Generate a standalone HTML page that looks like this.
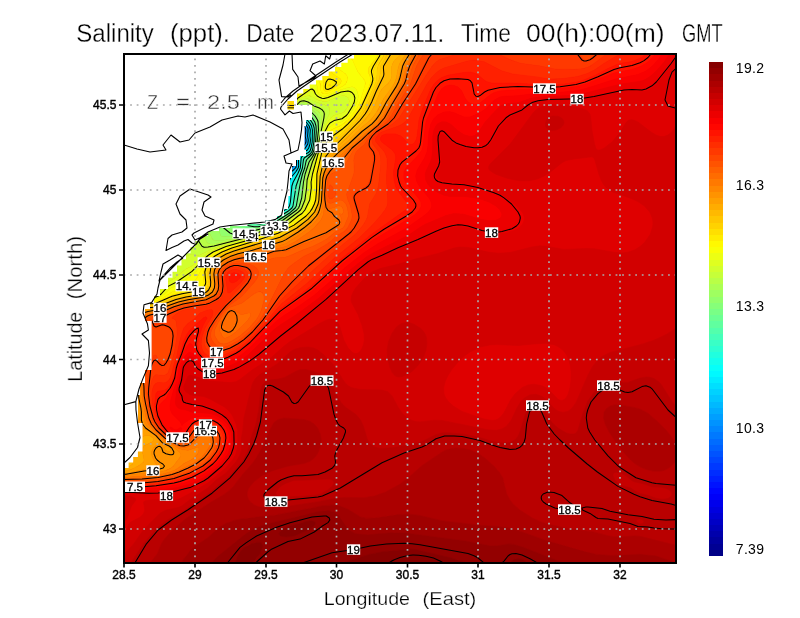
<!DOCTYPE html>
<html><head><meta charset="utf-8"><title>Salinity</title>
<style>
html,body{margin:0;padding:0;background:#fff}
svg{display:block;will-change:transform}
text{font-family:"Liberation Sans",sans-serif}
</style></head><body>
<svg width="800" height="618" viewBox="0 0 800 618">
<rect width="800" height="618" fill="#fff"/>
<defs><clipPath id="fr"><rect x="124" y="54" width="552" height="509"/></clipPath></defs>
<g clip-path="url(#fr)">
<rect x="124" y="54" width="552" height="509" fill="#dc0000"/>
<g shape-rendering="geometricPrecision">
<path d="M294,137.9 294,138.6 294,137.9ZM292,139.4 293.1,140 292,140.4 291.5,140 292,139.4Z" fill="#002dff" stroke="#002dff" stroke-width="0.6"/>
<path d="M294,133.4 296,133 298,133.9 298.7,138 298,140.6 288.9,148 287.3,150 284,156.8 282,159.3 278,161.4 274,161.5 272,160 271.7,158 272,156 274,152 277.2,148 287.2,138 294,133.4ZM293.8,138 294,138.6 293.8,138ZM291.5,140 292,140.4 293.1,140 292,139.4 291.5,140Z" fill="#0039ff" stroke="#0039ff" stroke-width="0.6"/>
<path d="M294,131.3 298,130.5 300,132 300.5,140 299.5,142 292,148 290.2,150 288.9,152 286,159.7 284,162.2 274,167.2 270,168.2 268,167.9 265.9,166 265.4,162 266.3,158 269.6,152 274.9,146 284,138 289.2,134 294,131.3ZM292.8,134 289.6,136 285.1,140 277.2,148 274,152 272,156 271.7,158 272,160 274,161.5 278,161.4 282,159.3 284,156.8 287.3,150 288.9,148 298,140.6 298.7,138 298,133.9 296,133 292.8,134Z" fill="#0046ff" stroke="#0046ff" stroke-width="0.6"/>
<path d="M294,129.7 298,128.7 300,129 301.2,130 302,140 301.4,142 300,143.6 294.1,148 290.8,152 287.5,162 285.6,164 268,175.2 266,176 264,175.9 262,174.7 260,170 259.9,166 261.4,160 264.7,154 269.6,148 276.2,142 286.6,134 294,129.7ZM292.5,132 286.5,136 279.3,142 273,148 269.6,152 266.3,158 265.4,162 265.9,166 268,167.9 270,168.2 274,167.2 284,162.2 286,159.7 288.9,152 290.2,150 292,148 299.5,142 300.5,140 300,132 298,130.5 296,130.7 292.5,132Z" fill="#0053ff" stroke="#0053ff" stroke-width="0.6"/>
<path d="M296,127.7 300,127.4 302,128.3 302.9,130 302.8,142 301.4,144 296,148 292.3,152 290.7,156 289.8,162 288.7,164 277.3,172 266,184.3 264,185.2 262,185 260,183.7 257.3,180 255.9,176 255.3,172 256.4,164 260,156 264.7,150 273.4,142 287.3,132 296,127.7ZM293.4,130 286.6,134 276.2,142 269.6,148 264.7,154 261.4,160 259.9,166 260,170 262,174.7 264,175.9 266,176 268,175.2 285.6,164 287.5,162 290.8,152 294.1,148 300,143.6 301.4,142 302,140 301.2,130 300,129 298,128.7 293.4,130Z" fill="#0060ff" stroke="#0060ff" stroke-width="0.6"/>
<path d="M294,127.4 300,126.3 302,126.9 303.3,128 304.1,130 303.6,134 304,142.1 302,144.8 296,149.3 293.7,152 291.9,156 291.3,162 290.9,164 290,165.1 282.7,170 276.6,176 272.8,182 268,191.3 266,192.8 264,193.3 262,192.8 258.1,190 256,187.4 254,183.9 252.1,178 251.6,174 252,168 254.7,160 260,152 268.2,144 282,134 294,127.4ZM295.2,128 290.7,130 284.2,134 270.9,144 264.7,150 258.9,158 255.8,166 255.5,174 256.5,178 258,181.3 260,183.7 262,185 264,185.2 266,184.3 277.3,172 288.7,164 289.8,162 290.7,156 292.3,152 296,148 301.4,144 302.8,142 302.9,130 302,128.3 300,127.4 295.2,128Z" fill="#006cff" stroke="#006cff" stroke-width="0.6"/>
<path d="M296,125.7 300,125.3 302,125.8 304.5,128 304.9,130 304.4,136 305,140 304.9,142 304.1,144 296.7,150 294,153.5 292.6,158 292.5,164 291.3,166 282.6,172 277.7,178 274.8,184 272,193.1 270,196.5 268,198.1 266,198.8 262,198.3 258,195.7 254.7,192 252,187.9 249.5,182 248.4,176 248.3,172 249.3,166 250.7,162 254.1,156 257.1,152 265.5,144 283.1,132 290.2,128 296,125.7ZM292.4,128 282,134 268.2,144 260,152 254.7,160 252,168 251.6,174 252.1,178 254,183.9 256,187.4 258.1,190 262,192.8 264,193.3 266,192.8 268,191.3 272.8,182 276.6,176 282.7,170 290,165.1 290.9,164 291.3,162 291.9,156 293.7,152 296,149.3 302,144.8 304,142.1 303.6,134 304.1,130 303.3,128 302,126.9 300,126.3 296,126.7 292.4,128Z" fill="#0079ff" stroke="#0079ff" stroke-width="0.6"/>
<path d="M294,125.5 300,124.5 303.9,126 305.3,128 305.8,130 305.1,136 305.9,140 305.8,142 305,144 303.4,146 298,150 294.7,154 293.6,158 293.7,164 293,166 284.7,172 279.8,178 277.2,184 274.3,196 272,199.7 268,202.3 266,202.7 262,202.2 258,200 253.9,196 249.7,190 247,184 245.5,178 245.3,172 246,167.6 247.9,162 251.3,156 254.4,152 262.9,144 277.7,134 288.2,128 294,125.5ZM295,126 290.2,128 283.1,132 265.5,144 257.1,152 254.1,156 250.7,162 249.3,166 248.3,172 248.4,176 249.5,182 252,187.9 254.7,192 258,195.7 262,198.3 266,198.8 268,198.1 270,196.5 272,193.1 274.8,184 277.7,178 282.6,172 291.3,166 292.5,164 292.6,158 294,153.5 296.7,150 304.1,144 304.9,142 305,140 304.4,136 304.9,130 304.5,128 302.4,126 300,125.3 295,126Z" fill="#0086ff" stroke="#0086ff" stroke-width="0.6"/>
<path d="M298,123.7 302,124.1 304,125.2 306.2,128 306.5,130 305.9,136 306.6,140 305.9,144 304,146.6 298,151.1 295.7,154 294.5,158 294.7,164 294,166.5 286.5,172 281.7,178 279.2,184 276.9,196 275.3,200 272,203.4 268,205.3 264,205.7 260,204.5 256,201.8 250.6,196 246.7,190 244.1,184 242.7,178 242.5,172 243.6,166 245.1,162 248.5,156 251.7,152 257.8,146 262.9,142 272.1,136 286.3,128 294,124.6 298,123.7ZM292.5,126 284.5,130 274.4,136 260.4,146 252.7,154 250,158 247.1,164 245.9,168 245.3,174 245.9,180 247.8,186 250,190.4 254,196.1 258,200 262,202.2 266,202.7 268,202.3 271.7,200 273.3,198 274.9,194 277.2,184 279.8,178 284.7,172 293,166 293.7,164 293.6,158 294.7,154 298,150 304,145.4 305.8,142 305.1,136 305.8,130 305.3,128 304,126 300,124.5 296,124.9 292.5,126Z" fill="#0093ff" stroke="#0093ff" stroke-width="0.6"/>
<path d="M294,123.8 298,122.9 302,123.3 304,124.3 306,126.3 307.1,130 306.6,136 307.3,142 306.7,144 304,147.6 300,150.4 296.6,154 295.3,158 295.3,166 294,168 288.2,172 283.4,178 280.9,184 278.7,198 276.8,202 272.1,206 268,207.8 264,208.2 260,207.2 255.1,204 250,198.9 245.1,192 242.1,186 240.4,180 239.8,174 240.5,168 242,163.1 244.6,158 247.3,154 252.9,148 257.6,144 273.2,134 284.4,128 294,123.8ZM296,124 290.5,126 282.5,130 262.9,142 257.8,146 251.7,152 248.5,156 245.1,162 243.6,166 242.5,172 242.7,178 244.1,184 246.7,190 250.6,196 256,201.8 260,204.5 264,205.7 268,205.3 272,203.4 275.3,200 276.9,196 279.2,184 281.7,178 286.5,172 294,166.5 294.7,164 294.5,158 295.7,154 298,151.1 304,146.6 305.9,144 306.6,140 305.9,136 306.5,130 306.2,128 304,125.2 302,124.1 300,123.7 296,124Z" fill="#009fff" stroke="#009fff" stroke-width="0.6"/>
<path d="M292,123.7 296,122.5 300,122.2 304,123.5 306.6,126 307.8,130 307.2,136 308,142 307.4,144 304.8,148 300,151.3 297.5,154 296.1,158 296,166.4 294,169 287.8,174 284,180 282.1,186 280.8,198 279.3,202 275.4,206 270,209.1 264,210.3 260,209.5 256,207.3 250,202 245,196 240.3,188 238.2,182 237.2,176 237.5,170 239,164 241.9,158 244.7,154 250.2,148 255,144 260.7,140 270.9,134 292,123.7ZM293.4,124 284.4,128 273.2,134 257.6,144 252.9,148 247.3,154 244.6,158 241.6,164 240.5,168 239.8,174 240.4,180 242.1,186 245.1,192 250,198.9 255.1,204 260,207.2 264,208.2 268,207.8 272.1,206 276.8,202 278.7,198 280.9,184 283.4,178 288.2,172 294,168 295.3,166 295.3,158 296.6,154 300,150.4 304,147.6 306.7,144 307.3,142 306.6,136 307.1,130 306,126.3 304,124.3 300,122.9 293.4,124Z" fill="#00acff" stroke="#00acff" stroke-width="0.6"/>
<path d="M296,121.8 302,121.8 305.7,124 307.3,126 308.5,130 307.9,136 308.6,142 308,144.4 306,148 300.3,152 298.4,154 296.8,158 296.9,166 296.1,168 289.3,174 285.4,180 283.6,186 282.2,200 280.2,204 275.3,208 268,211.6 264,212.2 260,211.5 254,208.1 247.4,202 242.5,196 237.8,188 235.2,180 234.6,174 235.3,168 237.2,162 240.6,156 243.7,152 249.9,146 255.1,142 264.8,136 276.4,130 289.4,124 296,121.8ZM291.3,124 270.9,134 260.7,140 255,144 250.2,148 244.7,154 241.9,158 239,164 237.5,170 237.2,176 238.2,182 240.3,188 245,196 250,202 256,207.3 260,209.5 264,210.3 270,209.1 275.4,206 279.3,202 280.8,198 282.1,186 284,180 287.8,174 294,169 296,166.4 296.1,158 297.5,154 300,151.3 304.8,148 307.4,144 308,142 307.2,136 307.8,130 307.5,128 306,125.3 304,123.5 300,122.2 296,122.5 291.3,124Z" fill="#00b9ff" stroke="#00b9ff" stroke-width="0.6"/>
<path d="M294,121.6 298,120.8 302,121.1 306,123.5 308,126 309.1,130 308.6,136 309.3,140 308,146.2 306,149.1 299.3,154 297.5,158 297.6,166 296.9,168 290.8,174 286.9,180 284.7,188 283.9,200 282.4,204 277.8,208 272,211.5 268,213.2 262,213.8 258,212.5 252,208.7 244.9,202 240,196 235.3,188 232.7,180 232.1,174 232.7,168 234.7,162 238,156 241.1,152 247.2,146 252.4,142 258.7,138 270,132 287.5,124 294,121.6ZM295.1,122 289.4,124 272.4,132 261.3,138 255.1,142 249.9,146 243.7,152 239.3,158 236.4,164 234.9,170 234.7,176 236,183.2 238.8,190 244,198 249.3,204 254,208.1 260,211.5 264,212.2 268,211.6 275.3,208 280.2,204 282.2,200 283.6,186 285.4,180 289.3,174 296.1,168 296.9,166 296.8,158 298.4,154 300.3,152 306,148 308,144.4 308.6,142 307.9,136 308.5,130 307.3,126 305.7,124 302,121.8 298,121.5 295.1,122Z" fill="#00c6ff" stroke="#00c6ff" stroke-width="0.6"/>
<path d="M292,121.5 298,120.1 302,120.4 306,122.6 308,124.9 309.5,128 309.8,130 309.3,134 309.8,142 308.8,146 308,148 306.3,150 302,152.5 298.9,156 298,160 298.2,166 297.7,168 296,170.5 290.7,176 288,180.8 286.4,186 285.4,200 284,204.4 280,208 269.8,214 264,215.4 258,214.3 251.1,210 244.3,204 239,198 233.7,190 231.2,184 229.6,176 229.8,170 231.3,164 234.1,158 238.4,152 244.5,146 249.7,142 258,136.9 267.5,132 292,121.5ZM292.7,122 270,132 258.7,138 252.4,142 247.2,146 241.1,152 236.7,158 233.9,164 232.4,170 232.1,176 233.1,182 236.2,190 241.5,198 246.8,204 254,210.2 260,213.3 264,213.9 270,212.5 277.8,208 282.4,204 283.9,200 284.7,188 286.9,180 290.8,174 296.9,168 297.6,166 297.5,158 299.3,154 306,149.1 308.1,146 309.3,140 308.6,136 309.1,130 308,126 306,123.5 302,121.1 298,120.8 292.7,122Z" fill="#00d2ff" stroke="#00d2ff" stroke-width="0.6"/>
<path d="M296,119.7 300,119.4 304,120.5 306.2,122 309.3,126 310.4,130 310,136 310.5,140 310.1,144 308.8,148 307.6,150 302,153.3 299.7,156 298.6,160 298.8,166 298.3,168 290.9,178 288.2,184 287.2,190 286.5,202 286,204 284.6,206 274,213.1 268,216 262,216.8 258,215.9 251.2,212 244,206 236.5,198 231.2,190 228.6,184 227,176 227.6,168 229.5,162 232.7,156 237.5,150 244.2,144 249.9,140 256.8,136 269.4,130 288.8,122 296,119.7ZM290.7,122 263.4,134 249.7,142 244.5,146 238.4,152 234.1,158 231.3,164 229.8,170 229.6,176 231.2,184 233.7,190 239,198 244.3,204 251.1,210 258,214.3 264,215.4 269.8,214 280,208 284,204.4 285.4,200 286.4,186 288,180.8 290.7,176 296,170.5 297.7,168 298.2,166 298,160 298.9,156 302,152.5 306.3,150 308,148 308.8,146 309.8,142 309.3,134 309.8,130 308.7,126 307.3,124 304,121.2 300,120.1 296,120.4 290.7,122Z" fill="#00dfff" stroke="#00dfff" stroke-width="0.6"/>
<path d="M294,119.5 300,118.7 304,119.7 307.1,122 310,126 311,130 310.7,136 311.1,140 309.6,148 308,150.8 302.3,154 300,157 299.3,160 299.4,166 299,168 298,170.2 291.2,180 289.5,184 288.4,190 287.9,202 286.4,206 284.2,208 270,216.4 264,218.1 258,217.3 251.6,214 241.5,206 235.6,200 229.7,192 226.7,186 224.6,178 224.6,170 226.1,164 228.8,158 233,152 238.9,146 247.1,140 262.2,132 294,119.5ZM294.8,120 283.8,124 264.9,132 256.8,136 248,141.3 241.7,146 235.7,152 231.5,158 228.7,164 227.3,170 227.2,178 229.3,186 232.3,192 236.5,198 244,206 251.2,212 258,215.9 262,216.8 268,216 274,213.1 284.6,206 286,204 286.5,202 287.2,190 288.2,184 290.9,178 298.3,168 298.8,166 298.6,160 299.7,156 302,153.3 307.6,150 308.8,148 310.1,144 310.5,140 310,136 310.4,130 309.3,126 306.2,122 304,120.5 300,119.4 294.8,120Z" fill="#00ecff" stroke="#00ecff" stroke-width="0.6"/>
<path d="M300,118 304,118.9 306,120.1 308,122 310.7,126 311.6,130 311.6,142 309.6,150 308,151.8 302,155.2 300.3,158 299.6,168 298,171.5 292.6,180 290.3,186 289.1,202 288,205.8 286,208.1 274,215.5 268.9,218 262,219.3 256,217.9 249.1,214 239,206 233,200 227.1,192 223.4,184 221.8,176 222.3,168 224.1,162 227.3,156 232,150 238.5,144 247.4,138 256,133.5 269.1,128 292,119.5 296,118.4 300,118ZM292.5,120 262.2,132 247.1,140 238.9,146 233,152 228.8,158 226.1,164 224.6,170 224.6,178 226.7,186 229.7,192 235.6,200 241.5,206 251.6,214 258,217.3 264,218.1 270,216.4 284.2,208 286.4,206 287.9,202 288.4,190 289.5,184 291.2,180 298,170.2 299,168 299.4,166 299.3,160 300,157 302.3,154 308,150.8 309.6,148 311,142 311,130 310.8,128 308.8,124 306,121 302,119 298,118.7 292.5,120Z" fill="#00f9ff" stroke="#00f9ff" stroke-width="0.6"/>
<path d="M296,117.7 300,117.2 304,118.2 306.9,120 310,123.5 311.4,126 312.3,130 312.1,142 310,150.7 308,152.6 304,154.5 302.2,156 301.1,158 300.2,168 292.9,182 291.6,186 290.2,202 289.2,206 286,209.2 270,218.6 266,219.9 262,220.4 256,219.3 248,214.9 238.7,208 230.3,200 224.4,192 221.3,186 219.2,178 219.2,170 221.4,162 224.5,156 230,149.1 235.6,144 244.4,138 252,134 261.2,130 296,117.7ZM299.2,118 292,119.5 269.1,128 256,133.5 247.4,138 238.5,144 232,150 227.3,156 224.1,162 222.3,168 221.8,176 223.4,184 227.1,192 233,200 239,206 249.1,214 256,217.9 262,219.3 268.9,218 274,215.5 286,208.1 288,205.8 289.1,202 290.3,186 292.6,180 298,171.5 299.6,168 300.3,158 302,155.2 308,151.8 309.6,150 311.6,142 311.6,130 310.7,126 308,122 306,120.1 302,118.3 299.2,118Z" fill="#06fff9" stroke="#06fff9" stroke-width="0.6"/>
<path d="M294,117.5 298,116.6 302,116.7 306,118.5 309.7,122 312,125.9 312.6,128 312.8,140 311.6,148 310,151.9 304,155.4 301.8,158 300.8,168 294.2,182 292.8,186 291.2,202 290.4,206 289,208 286.4,210 270,219.6 266,220.9 262,221.4 258,221.1 254.6,220 247.1,216 236,208 227.5,200 221.5,192 218.5,186 216.4,178 216.4,170 218.6,162 221.7,156 226.3,150 232.6,144 241.3,138 248.8,134 258.1,130 294,117.5ZM294.8,118 261.2,130 252,134 244.4,138 235.6,144 230,149.1 224.5,156 221.4,162 219.2,170 219.2,178 221.3,186 224.4,192 230.3,200 238.7,208 248,214.9 256,219.3 262,220.4 266,219.9 270,218.6 286,209.2 289.2,206 290.2,202 291.6,186 292.9,182 300.2,168 301.1,158 302.2,156 304,154.5 308,152.6 310,150.7 311,148 312.3,140 312,128 311.4,126 308.9,122 306,119.3 302,117.5 298,117.3 294.8,118Z" fill="#13ffec" stroke="#13ffec" stroke-width="0.6"/>
<path d="M298,115.9 302,116 304,116.6 308,119.1 310.6,122 312,124.4 313.2,128 313.3,140 312,148.7 310.6,152 308,154.2 304.3,156 302.7,158 302.1,160 301.4,168 294.1,186 291.4,206 290.2,208 288,210 274,218.5 268,221.2 264,222.2 260,222.4 256,221.7 252,220.2 241.4,214 230.8,206 224.6,200 218.5,192 214.8,184 213.3,176 213.8,168 216.5,160 220.1,154 226,147.2 232.1,142 241.6,136 249.9,132 260.2,128 298,115.9ZM292.6,118 258.1,130 248.8,134 241.3,138 232.6,144 226.3,150 221.7,156 217.8,164 216.2,172 216.7,180 219.4,188 222.8,194 229.4,202 238.5,210 247.1,216 256,220.5 262,221.4 269,220 274,217.6 289,208 291,204 292.8,186 294.2,182 300.8,168 301.8,158 304,155.4 309.9,152 311,150 312.6,142 312.9,130 312,126 311.1,124 308,120.1 304,117.4 300,116.5 292.6,118Z" fill="#20ffdf" stroke="#20ffdf" stroke-width="0.6"/>
<path d="M296,115.6 300,115 304,115.7 308,118.2 311.4,122 313.8,128 313.8,140 312.6,148 311.2,152 310,153.5 304,157.5 302.9,160 302,168 295.3,186 292.4,206 291.2,208 288,210.8 274,219.5 270,221.3 266,222.6 260,223.3 256,222.8 252,221.5 241.6,216 230.1,208 223.3,202 216.6,194 212.4,186 210.4,178 210.5,170 212.6,162 217,154 222.1,148 228.9,142 238.3,136 246.5,132 256.8,128 296,115.6ZM297.7,116 260.2,128 249.9,132 240,136.9 232.1,142 225.1,148 220.1,154 215.7,162 213.5,170 213.5,178 215.5,186 218.5,192 224.6,200 230.8,206 241.4,214 252,220.2 256,221.7 260,222.4 264,222.2 268,221.2 274,218.5 288,210 290.2,208 291.4,206 294.1,186 301.4,168 302.1,160 302.7,158 304.3,156 308,154.2 310.6,152 312,148.7 313.3,140 313.2,128 312,124.4 310.6,122 308,119.1 304,116.6 300,115.8 297.7,116Z" fill="#2dffd2" stroke="#2dffd2" stroke-width="0.6"/>
<path d="M294,115.5 298,114.4 302,114.3 304,114.8 308,117.2 310.8,120 313.3,124 314.4,128 314.6,132 314.1,142 312.7,150 310.3,154 304.6,158 303.7,160 302.7,168 296.6,186 293.4,206 292,208.3 288,211.7 274.6,220 270,222.2 266,223.4 260,224.2 256,223.9 250.1,222 238.5,216 226.7,208 219.9,202 213.2,194 209.1,186 207.1,178 207.3,170 209.5,162 213.9,154 218.9,148 225.6,142 234.8,136 242.9,132 253.2,128 294,115.5ZM294.8,116 256.8,128 246.5,132 238.3,136 228.9,142 222.1,148 217,154 212.6,162 210.5,170 210.4,178 212.4,186 216.6,194 223.3,202 232.7,210 245,218 253.3,222 260,223.3 266,222.6 270,221.3 274,219.5 288,210.8 291.2,208 292.4,206 295.3,186 302,168 302.9,160 304,157.5 310,153.5 312.2,150 313.6,142 314,132 313.8,128 312.6,124 308,118.2 306,116.7 302,115.1 298,115.2 294.8,116Z" fill="#39ffc6" stroke="#39ffc6" stroke-width="0.6"/>
<path d="M298,113.7 302,113.4 306,114.8 310,118 312,120.3 314,124 315,128 314.9,138 314,146 312.4,152 310,155.1 305.8,158 304.6,160 303.3,168 298.1,184 294.9,204 293.2,208 288.7,212 272.3,222 266,224.2 258,225.1 251.9,224 242.4,220 230,212.9 220.6,206 214.3,200 208.4,192 205.5,186 203.6,178 203.6,172 205.4,164 209.3,156 213.7,150 219.8,144 224.9,140 231.3,136 240,131.6 255.4,126 282,118.8 298,113.7ZM292.7,116 253.2,128 242.9,132 234.8,136 225.6,142 218.9,148 213.9,154 209.5,162 207.3,170 207.1,178 209.1,186 213.2,194 219.9,202 229.4,210 242,218 252,222.7 256,223.9 260,224.2 266,223.4 270.4,222 276,219.2 290,210.3 292.3,208 293.4,206 296.6,186 302.7,168 303.7,160 304.6,158 310.3,154 312.7,150 314.1,142 314.6,130 314,126 312.2,122 310,119.1 306,115.8 304,114.8 300,114.2 292.7,116Z" fill="#46ffb9" stroke="#46ffb9" stroke-width="0.6"/>
<path d="M296,113.4 300,112.5 304,112.9 310,116.8 312.7,120 314.8,124 315.8,132 315.1,142 313.6,150 311.7,154 307,158 305.5,160 303.9,168 299.6,182 295.9,204 294.2,208 289.9,212 273.9,222 266,224.8 256,225.9 248,224.1 238.6,220 226,212.9 216.5,206 210.3,200 204.4,192 201.6,186 199.9,178 200.3,170 201.8,164 205.8,156 210.2,150 216.3,144 221.4,140 230,134.7 238,130.8 251.3,126 284,117.5 296,113.4ZM296.8,114 282,118.8 255.4,126 239.2,132 231.3,136 224,140.7 217.5,146 212.1,152 208.1,158 204.7,166 203.5,174 204.3,182 207.2,190 211,196 216.2,202 223.1,208 231.7,214 244,220.8 252,224 258,225.1 266,224.2 272.3,222 288.7,212 293.2,208 294.9,204 298.1,184 303.3,168 304.6,160 305.8,158 311,154 313.2,150 314.6,142 315.2,132 315,128 314,124 310,118 306,114.8 304,113.9 300,113.3 296.8,114Z" fill="#53ffac" stroke="#53ffac" stroke-width="0.6"/>
<path d="M300,111.5 302,111.4 306,112.7 310,115.6 313.7,120 316,126 316.2,134 315.5,142 314.1,150 312,154.5 308.2,158 306,161.5 304.7,168 302.5,174 300.5,182 296.8,204 295.2,208 293.3,210 278,220.5 272,223.6 264,225.9 254,226.8 250,226.3 244,224.5 228,216.9 217.1,210 207.7,202 202.6,196 198.1,188 196.3,182 195.9,174 197.4,166 199.8,160 204.9,152 210.4,146 217.6,140 223.7,136 238,129.1 253.9,124 284,116.8 300,111.5ZM294.5,114 282,118.1 252,125.8 238,130.8 230,134.7 221.4,140 216.3,144 210.2,150 205.8,156 201.8,164 200.3,170 199.9,178 201.6,186 204.4,192 210.3,200 216.5,206 226,212.9 238.6,220 248,224.1 256,225.9 266,224.8 273.9,222 289.9,212 294.2,208 295.9,204 299.6,182 303.9,168 305.5,160 307,158 311.7,154 313.6,150 315.1,142 315.8,132 314.8,124 312.7,120 309.1,116 306,113.8 302,112.5 298,112.8 294.5,114Z" fill="#60ff9f" stroke="#60ff9f" stroke-width="0.6"/>
<path d="M296,111.9 300,110.5 304,110.7 310,114.4 313.4,118 315.7,122 316.7,126 317,130 316.2,140 314.5,150 312.9,154 307.6,160 306.8,162 301.7,180 297.8,204 296.2,208 294.2,210 290,213.4 280,220 272,224.3 266.8,226 260,227.3 250,227.9 244,226.7 224,217.6 211.9,210 202.6,202 197.6,196 193.3,188 191.7,182 191.5,174 193.3,166 195.8,160 201.1,152 206.5,146 213.7,140 219.7,136 227.1,132 236.5,128 252,123.3 284,116.2 296,111.9ZM298,112 284,116.8 253.9,124 238,129.1 223.7,136 217.6,140 210.4,146 204.9,152 199.8,160 197.4,166 195.9,174 196.3,182 198.1,188 202.6,196 207.7,202 217.1,210 228,216.9 244,224.5 250,226.3 254,226.8 264,225.9 272,223.6 278,220.5 293.3,210 295.2,208 296.8,204 300.5,182 302.5,174 304.7,168 306,161.5 308.2,158 312,154.5 314.1,150 315.5,142 316.3,132 315.5,124 314,120.5 312,117.7 308,114 304,111.9 302,111.4 298,112Z" fill="#6cff93" stroke="#6cff93" stroke-width="0.6"/>
<path d="M300,109.3 302,109 306,110.3 310,113 314,117.2 315.8,120 317.2,124 317.5,132 316.5,142 315,150 313.4,154 308.6,160 307.7,162 302.6,180 300.5,196 298.7,204 297.2,208 295.3,210 290,214.2 280,220.8 272,225 268,226.4 258,228.5 246,230.1 242,229 232,224.8 216,216.7 203.3,208 194.9,200 190.6,194 187.2,186 186.4,180 187,172 188.7,166 192.7,158 198.6,150 204.6,144 212.4,138 219,134 234,127.2 252,122 286,114.9 300,109.3ZM295.8,112 284,116.2 252,123.3 236.5,128 227.1,132 219.7,136 213.7,140 206.5,146 201.1,152 195.8,160 193.3,166 191.5,174 191.7,182 193.3,188 197.6,196 202.6,202 211.9,210 224,217.6 244,226.7 250,227.9 260,227.3 266.8,226 272,224.3 280,220 290,213.4 294.2,210 296.2,208 297.8,204 301.7,180 306.8,162 307.6,160 312.9,154 314.5,150 316.2,140 317,130 316.7,126 315.7,122 313.4,118 310,114.4 306,111.5 302,110.3 300,110.5 295.8,112Z" fill="#79ff86" stroke="#79ff86" stroke-width="0.6"/>
<path d="M302,107.6 304,107.9 308,110.1 312.7,114 315.9,118 317,120 318,124 318.1,132 315.4,150 314,154 308.7,162 304.8,174 303.1,182 301.2,198 299.1,206 298.1,208 296.3,210 284,219.1 274,224.9 268,227 255.2,230 248,232.5 240,233 234,231.3 210,217.6 196.1,208 187.7,200 183.6,194 180.9,186 180.5,180 181.6,172 184.6,164 189.3,156 196,148 202.7,142 208.1,138 216,133.2 224,129.3 232.4,126 250,121.2 286,114.3 292,112.2 300,108.1 302,107.6ZM298.3,110 290,113.7 284,115.5 252,122 234,127.2 219,134 212.4,138 204.6,144 198.6,150 192.7,158 188.7,166 187,172 186.4,180 187.2,186 190.6,194 194.9,200 203.3,208 216,216.7 232,224.8 242,229 246,230.1 258,228.5 268,226.4 272,225 280,220.8 290,214.2 295.3,210 297.2,208 298.7,204 300.5,196 302.6,180 307.7,162 308.6,160 313.4,154 315,150 316.5,142 317.5,132 317.4,126 316.7,122 313,116 308,111.5 304,109.4 302,109 298.3,110Z" fill="#86ff79" stroke="#86ff79" stroke-width="0.6"/>
<path d="M302,105.9 304,106.2 308,108.4 314.5,114 317.4,118 319.1,124 318.8,132 317.1,144 315.3,152 314,155 309.7,162 305.7,174 304,182 302.3,198 300,206 297.4,210 290,215.8 276,224.7 268,227.7 258.3,230 248,234.3 238,236.2 224,236.8 221.1,236 218.4,230 216.5,228 208.3,222 186.3,208 181.5,204 178,200 174.7,194 173.2,188 173.4,180 175.4,172 179,164 185.8,154 193.3,146 200.6,140 213.4,132 222,128 230,125 248,120.3 286,113.6 292,111.5 300,106.5 302,105.9ZM300.3,108 292.4,112 286,114.3 250,121.2 232.4,126 224,129.3 216,133.2 208.1,138 202.7,142 196,148 189.3,156 184.6,164 181.6,172 180.5,180 180.9,186 183.6,194 187.7,200 196.1,208 210,217.6 234,231.3 240,233 248,232.5 255.2,230 268,227 274,224.9 284,219.1 296.3,210 298.1,208 299.1,206 301.2,198 303.1,182 304.8,174 308.7,162 314,154 315.4,150 317,142 318.2,130 317.7,122 314.5,116 310,111.6 306,108.8 302,107.6 300.3,108Z" fill="#93ff6c" stroke="#93ff6c" stroke-width="0.6"/>
<path d="M300,104.8 302,104.1 306,105.1 316.9,114 319.3,118 319.9,120 320.2,124 319.7,130 317.6,144 315.8,152 310.6,162 306.1,176 305,182 303.4,198 300.9,206 298.5,210 290,216.7 282.2,222 276,225.4 270,227.7 258,231 248,235.6 238,238 222,240.5 216,240.8 213.4,240 212,238.5 208.2,230 204,226 194,220.3 170,210 166.9,208 164,205.1 161.7,200 161.5,192 163.2,184 167,174 172.6,164 178.5,156 186,148 195.5,140 210,131.1 226,124.5 246,119.3 278,114.6 286,112.9 293.4,110 300,104.8ZM301.8,106 300,106.5 292,111.5 286,113.6 248,120.3 230,125 222,128 213.4,132 200.6,140 193.3,146 185.8,154 179,164 175.4,172 173.4,180 173.2,188 174.7,194 178,200 181.5,204 186.3,208 208.3,222 216.5,228 218.4,230 221.1,236 224,236.8 238,236.2 248,234.3 258.3,230 268,227.7 276,224.7 290,215.8 297.4,210 300,206 302.3,198 304,182 305.7,174 309.7,162 314,155 315.3,152 317.1,144 318.8,132 318.9,122 317.4,118 316.1,116 312.4,112 308,108.4 304,106.2 301.8,106ZM122,215.4 132.2,216 140,218.3 144.6,222 147.6,228 149.5,236 150.4,244 150.7,252 150.1,258 148.2,264 146,267.5 143.2,270 140,271.4 134,272.1 120,270.5 120,215.4 122,215.4Z" fill="#9fff60" stroke="#9fff60" stroke-width="0.6"/>
<path d="M300,103 302,102.2 306,102.8 318,111.2 320.6,114 321.4,116 321.8,120 320.2,132 316.8,150 315.6,154 311.6,162 307.7,174 306,181.7 304.5,198 301,208 299.6,210 286,220.5 278,225.3 274,227 260,231.1 248,236.7 216,243.9 210,244 208,243.2 206.7,242 204,236 202,233.4 198,230.4 194,228.5 190,227.3 184,226.4 180,226.5 176,227.5 171.5,230 169.6,232 167.1,236 165,242 162,258 160.2,264 157.1,270 152,276.6 148,279.6 142,281.1 120,278.8 120,270.5 132,272 136.5,272 142,270.7 145.6,268 148,264.5 149.7,260 150.7,250 150,240 148.7,232 146.9,226 144,221.3 140,218.3 136,216.8 130,215.7 120,215.4 120,197.4 126,196.2 134,193.7 140,190.9 144,188.1 150,182.5 166.5,162 177.9,150 190,140 202.9,132 218,125.2 234,120.4 248,117.6 278,113.8 286.9,112 294,108.7 300,103ZM298.6,106 293.4,110 286,112.9 278,114.6 246,119.3 227.4,124 218,127.5 210,131.1 195.5,140 186,148 178.5,156 172.6,164 167,174 163.2,184 161.5,192 161.7,200 164,205.1 166.9,208 170,210 194,220.3 204,226 208.2,230 212,238.5 213.4,240 216,240.8 222,240.5 238,238 248,235.6 258,231 270,227.7 276,225.4 282.2,222 290,216.7 298.5,210 300,208 302.9,200 306,176.4 310.6,162 315.1,154 316.3,150 319.2,134 320,126 320.1,122 319.3,118 316.9,114 314.9,112 308,106.4 304,104.2 302,104.1 298.6,106Z" fill="#acff53" stroke="#acff53" stroke-width="0.6"/>
<path d="M300,101.3 302,100.5 306,100.6 314,105 321.7,108 324.1,110 325.3,114 316.8,152 312.6,162 307.7,178 305.2,200 301.9,208 300,210.8 286,221.5 276,227 260,231.9 252,236.2 248,237.7 228,242.4 208,247.9 204,248.6 201.1,248 196,241.9 192,239.4 188,238.9 184,239.7 180,242.3 176,247.7 169.6,264 166.2,270 156,281.7 152,285.3 148,286.8 144,287 120,284.6 120,278.8 142,281.1 148,279.6 152,276.6 157.1,270 160.2,264 162,258 165,242 167.1,236 170,231.5 174.7,228 180,226.5 184,226.4 190,227.3 194,228.5 198,230.4 202,233.4 204,236 206.7,242 208,243.2 210,244 216,243.9 248,236.7 260,231.1 274,227 278,225.3 286,220.5 299.6,210 301,208 304.5,198 306,181.7 307.7,174 311.6,162 315.6,154 316.8,150 320.2,132 321.8,120 321.4,116 319,112 308,104.1 304,102.2 302,102.2 300,103 294,108.7 286.9,112 278,113.8 248,117.6 234,120.4 218,125.2 202.9,132 190,140 180,148 168.3,160 148,184.6 142,189.6 136,192.9 128,195.7 120,197.4 120,183.7 130,180.6 142,174.3 150,168.4 170.8,150 181,142 193.4,134 205.1,128 220,122.3 236,118.2 248,116.2 276,113.3 286,111.6 290,110.2 293.7,108 300,101.3Z" fill="#b9ff46" stroke="#b9ff46" stroke-width="0.6"/>
<path d="M300,99.7 304,98.5 310,99.2 318,102.8 327.8,106 329.5,108 329.8,110 329.3,114 325.3,122 323.1,128 317.3,152 309.9,174 308.1,182 308,188 306.4,200 303.1,208 300.1,212 288,221.3 280,225.9 272,229.3 261.9,232 250,238 230,243 218,246.8 209.6,250 200,255 196,255.4 192,254.4 188,255.3 182,259.5 173.4,272 164,279.8 156.6,288 154,290.1 152,290.9 148,291.5 130,289.5 120,289.2 120,284.6 146,287 150,286.3 153.7,284 166.2,270 169.6,264 176,247.7 180,242.3 184,239.7 188,238.9 192,239.4 196,241.9 201.1,248 204,248.6 208,247.9 228,242.4 248,237.7 252,236.2 260,231.9 276,227 286,221.5 300,210.8 301.9,208 305.2,200 307.7,178 312.6,162 316.8,152 325.3,114 324.1,110 322,108.2 314,105 308,101.4 304,100.3 300,101.3 293.7,108 290,110.2 286,111.6 278,113 244,116.8 224,121.1 215,124 205.1,128 197,132 186.8,138 173.2,148 146,171.5 134,178.9 126,182.1 120,183.7 120,172.5 130,169.4 142,163.6 152,157.3 180,138 192,131.2 204,125.7 218,120.8 234,117 250,114.7 278,112.2 286,110.8 292.5,108 294.6,106 298,101.3 300,99.7Z" fill="#c6ff39" stroke="#c6ff39" stroke-width="0.6"/>
<path d="M308,95.8 312,96.4 318,99.9 324,101.4 328,100.9 340,96.1 344,95.8 346,96.3 348.3,98 349.1,100 349.2,102 348,106 346,109.5 344,111.7 342,113 334,115.2 330,118.8 326,124.5 322,135.4 317.4,154 310,178.5 309.4,182 309.4,188 307.7,200 303.2,210 301.6,212 288,222.5 278,227.9 270,230.8 262,232.9 250,238.8 226,245.3 216,249 210,251.8 191.7,266 186,269.1 174,278.4 166,283.1 158.1,292 154.8,294 150,294.9 132,293.1 120,293.2 120,289.2 130,289.5 148,291.5 152,290.9 154,290.1 156.6,288 164,279.8 173.4,272 182,259.5 188,255.3 192,254.4 196,255.4 200,255 209.6,250 218,246.8 230,243 250,238 261.9,232 272,229.3 280,225.9 288,221.3 300.1,212 303.1,208 306.4,200 308,188 308.1,182 309.9,174 317.3,152 323.1,128 325.3,122 329.3,114 329.8,110 329.5,108 327.8,106 326,105.3 318,102.8 308,98.7 302,98.9 298,101.3 294.6,106 292.5,108 286,110.8 278,112.2 250,114.7 234,117 218,120.8 203.2,126 190.5,132 180,138 152,157.3 142,163.6 134,167.7 126,170.9 120,172.5 120,162.9 130,160 142,154.9 183.1,132 194,126.9 204,122.9 218,118.6 234,115.3 250,113.3 278,111.4 286,110.1 292,107.4 297.8,100 300,98.2 304,96.6 308,95.8Z" fill="#d2ff2d" stroke="#d2ff2d" stroke-width="0.6"/>
<path d="M308,91.9 310,90.7 312,90.3 316.6,96 318,97 320,98.1 324,98.8 328,97.9 340,92.7 344,91.9 348,91.8 350,92.4 352.4,94 353.7,96 354.1,100 352,106 348.5,112 346,115.1 342,118.1 334,120 332,120.9 328,124.8 326,128.5 322,138.7 312.3,174 310.9,182 311,188 309.4,200 305.7,208 303.2,212 290,222.4 278,228.9 262,233.9 250,239.6 224,247.1 212.7,252 206.9,256 192,270.8 175.6,282 168,285.8 160.5,294 157.5,296 152,297.5 134,296 120,296.7 120,293.2 132,293.1 150,294.9 154.8,294 158.1,292 166,283.1 174,278.4 186,269.1 191.7,266 210,251.8 216,249 226,245.3 250,238.8 262,232.9 270,230.8 278,227.9 288,222.5 301.6,212 303.2,210 307.7,200 309.4,188 309.4,182 310,178.5 317.4,154 322,135.4 326,124.5 330,118.8 334,115.2 342,113 344,111.7 346,109.5 348,106 349.2,102 349.1,100 348.3,98 346,96.3 344,95.8 340,96.1 328,100.9 324,101.4 318.4,100 310,95.8 306,96.1 300,98.2 297.8,100 292,107.4 286,110.1 278,111.4 250,113.3 234,115.3 218,118.6 204,122.9 194,126.9 183.1,132 142,154.9 126,161.4 120,162.9 120,154.3 128,152.4 140,148.2 186,126.8 198.5,122 211.5,118 224,115.2 236,113.3 250,112 278,110.6 288,108.7 292.4,106 298,98.2 308,91.9Z" fill="#dfff20" stroke="#dfff20" stroke-width="0.6"/>
<path d="M312,83.6 314,83.3 316,84 317.1,86 317.9,92 318.9,94 322,96.1 324,96.4 328,95.6 340,90.1 348,87.4 352,86.7 354,87.3 356,89 357.6,92 358.3,96 357.8,100 356,104.7 348.7,116 346,118.8 342,121.7 334,124 330,126.4 328,129 324,136.6 320,149.3 313.6,174 312.6,182 312.7,190 311.4,200 308.6,206 305,212 302,214.8 290,223.8 280,229.1 274,231.4 264,234.3 250,240.4 226,247.5 214,252.8 207.1,258 196,271.4 190,276.8 176,286.1 170,288.6 164,294.5 158.5,298 152,299.7 134,298.5 120,300 120,296.7 134,296 152,297.5 157.5,296 160.5,294 168,285.8 175.6,282 192,270.8 206.9,256 212.7,252 224,247.1 250,239.6 262,233.9 278,228.9 290,222.4 297.7,216 302,213.2 304.7,210 309.4,200 311,188 310.9,182 312.3,174 322,138.7 326,128.5 328,124.8 332,120.9 334,120 342,118.1 346,115.1 348.5,112 352,106 353.7,102 354.2,98 353.7,96 352,93.6 350,92.4 346,91.8 340,92.7 326,98.5 322,98.6 319.8,98 316.6,96 312,90.3 310,90.7 298,98.2 292.4,106 289.7,108 286,109.4 276,110.7 240,112.8 218,116.4 204.6,120 190,125.2 178.8,130 146,145.7 128,152.4 120,154.3 120,146.6 128,144.9 140,141.3 188,122.5 200,118.6 212,115.5 224,113.2 236,111.6 250,110.6 278,109.7 287.8,108 291.2,106 298,96.6 303.7,92 308.9,86 312,83.6Z" fill="#ecff13" stroke="#ecff13" stroke-width="0.6"/>
<path d="M346,57.3 348,57.1 350,57.6 352.5,60 358,72 364.4,80 365.2,82 364.9,86 360,102.1 357,108 352,115.2 348,119.8 342,124.8 332,129.5 330,131.1 326,136.3 324.2,140 320,152.2 314.9,174 314.4,180 314.5,190 313.3,200 309.7,208 305.1,214 291.9,224 278,231.2 264,235.5 252,240.6 228,247.8 214.4,254 209.2,258 205.7,262 198,275.9 193,284 191.1,286 186.7,288 182,288.9 172,291.9 162.6,298 156,300.9 152,301.5 134,300.8 120,303.1 120,300 126,299.1 136,298.5 152,299.7 158.5,298 164,294.5 170,288.6 176,286.1 190,276.8 196,271.4 207.1,258 214,252.8 226,247.5 250,240.4 264,234.3 278,229.9 290,223.8 303.1,214 306.4,210 311.4,200 312.7,190 312.6,182 313.6,174 320,149.3 324,136.6 328,129 330,126.4 334,124 342,121.7 346,118.8 348.7,116 356,104.7 357.8,100 358.3,96 357.6,92 356,89 354,87.3 352,86.7 348,87.4 340,90.1 328,95.6 324,96.4 322,96.1 318.9,94 317.9,92 317.1,86 316,84 314,83.3 312,83.6 308.9,86 303.7,92 298,96.6 291.2,106 286,108.6 276,109.8 238,111.4 224,113.2 212,115.5 189.5,122 144,139.9 132,143.8 122,146.3 120,146.6 120,139.4 128,138 140,135 188,119.1 212,113.1 224,111.1 238,109.7 276,108.9 286,107.7 289.9,106 291.9,104 296,97.1 302.6,90 308,82.4 310,80.5 314,78.7 316,78.8 318,79.7 319.8,82 320.6,90 322,92.9 324,94 328,93.6 343.1,86 345.5,84 346.9,82 347.5,78 347,76 345.6,74 340.1,70 338.9,68 338.6,66 340,61.7 342,59.4 346,57.3Z" fill="#f9ff06" stroke="#f9ff06" stroke-width="0.6"/>
<path d="M336,50 379,50 378.8,52 378,54.9 376.3,58 368.6,68 368.2,72 370.6,78 370.7,82 368,89.7 359.5,108 353.8,116 348,122.5 342,127.8 332,134.2 328,137.7 324,144.9 320.6,154 316.2,174 316,190 314.9,200 312,207.3 308.9,212 304,216.8 294.4,224 280,231.6 252,241.4 230,248.1 220.6,252 214,255.8 209.2,260 205.4,266 203.5,272 204,284 202.8,286 200,288.3 196,290.1 182,292.6 172,294.9 156,302.5 152,303 142,302.5 134,302.9 120,306.1 120,303.1 130,301.2 138,300.7 152,301.5 156,300.9 162.6,298 172,291.9 182,288.9 186.7,288 191.1,286 193,284 198,275.9 205.7,262 209.2,258 214.4,254 228,247.8 252,240.6 264,235.5 278,231.2 291.9,224 304,215 306.9,212 309.7,208 313.3,200 314.5,190 314.4,180 314.9,174 320,152.2 324.2,140 326,136.3 330,131.1 332,129.5 340,126 344,123.4 348,119.8 352.9,114 357,108 360,102 365.3,84 365.2,82 364.4,80 358,72 352,59.2 350,57.6 348,57.1 346,57.3 342,59.4 340,61.7 338.6,66 338.9,68 340.1,70 345.6,74 347,76 347.5,80 345.5,84 343.1,86 331.8,92 328,93.6 324,94 321.3,92 320.6,90 320.4,84 319.8,82 318.4,80 316,78.8 312,79.3 308,82.4 302.6,90 296,97.1 291.9,104 289.9,106 286,107.7 276,108.9 238,109.7 224,111.1 212,113.1 188,119.1 142,134.4 122,139.2 120,139.4 120,132.6 130,131.1 142,128.5 190,115.3 214,110.4 236,108.1 276,108 286,106.8 288.2,106 290.7,104 295.5,96 300.1,90 305.1,82 308,78.3 312,75.2 316,73.9 320,74.5 321.8,76 323,78 323.6,82 323.4,88 324,90.3 326,91.5 330,90.6 340,84 341.2,82 341.1,80 340,78.4 333.1,74 331.5,72 329.8,68 329.7,64 330.7,60 335.4,50 336,50Z" fill="#fff900" stroke="#fff900" stroke-width="0.6"/>
<path d="M328,50 335.4,50 330.7,60 329.7,64 329.8,68 331.5,72 333.1,74 340,78.4 341.1,80 341.2,82 340,84 330,90.6 326,91.5 324,90.3 323.4,88 323.6,82 323,78 321.8,76 320,74.5 316,73.9 312,75.2 308,78.3 305.1,82 300.1,90 295.5,96 290.7,104 288.2,106 286,106.8 276,108 236,108.1 214,110.4 190,115.3 142,128.5 130,131.1 120,132.6 120,126 144,122.5 186,112.9 204,109.4 218,107.5 232,106.5 248,106.2 276,106.9 286,105.8 289.3,104 290.8,102 306,76.4 310,72.2 318.3,66 320.2,64 324,57.6 327.3,50 328,50ZM329.6,84 328,86.1 330.3,86 330.4,84 329.6,84ZM380,50 382.6,50 382.3,52 381,56 375.2,66 373.7,70 373.5,72 374.2,78 373.6,82 370,90.9 361.7,108 356.2,116 350,123 342,130.5 332.3,138 328.2,142 322.5,152 317.4,174 317.1,190 316,201.1 312.1,210 308,214.9 304,218.5 294,225.7 278,234 232,248.4 223.1,252 215.9,256 211.1,260 207.2,266 205.7,272 206.5,284 205.9,286 204.5,288 202,290 196.6,292 182,294.4 172,296.9 156,303.9 136,304.6 129.5,306 120,309.2 120,306.1 126,304.5 136,302.7 152,303 156,302.5 172,294.9 182,292.6 196,290.1 200,288.3 202.8,286 204,284 203.5,272 205.4,266 209.2,260 214,255.8 220.6,252 230,248.1 252,241.4 264,236.9 278,232.5 294.4,224 307.1,214 311.6,208 314,203.1 314.9,200 316,190 316.2,174 320.6,154 324,144.9 328,137.7 332,134.2 342,127.8 348,122.5 353.8,116 359.5,108 368,89.7 370.7,82 370.6,78 368.2,72 368.6,68 376.3,58 378.3,54 379,50 380,50Z" fill="#ffec00" stroke="#ffec00" stroke-width="0.6"/>
<path d="M322,50 327.3,50 321.6,62 318.3,66 310,72.2 306,76.4 290.8,102 289.3,104 286,105.8 276,106.9 236,106.3 214,108 190.1,112 142,122.9 120,126 120,119.7 146,116.8 188,109.1 204,106.7 218,105.2 232,104.6 248,104.7 276,105.9 282,105.6 286,104.7 288,103.6 290,101.3 304,74.7 315.8,60 319.4,54 320.9,50 322,50ZM384,50 385.6,50 384.5,54 378.8,64 377.4,68 376.8,78 375.9,82 368.9,98 362.7,110 353.3,122 344,131.3 330,144 324,152.5 322.7,156 318.5,174 318,191.9 316.8,202 313.4,210 308,216.5 295.9,226 278,235.4 232,249.5 222,253.7 216,257.5 211.2,262 208.8,266 207.3,272 208.2,282 207.7,286 206,288.9 202,291.7 198,293 184,295.4 174,297.8 156,305 142,305.7 134,306.9 128,308.9 120,312.4 120,309.2 130,305.9 140,304.2 152,304.3 156,303.9 172,296.9 182,294.4 196.6,292 202,290 204.5,288 205.9,286 206.5,284 205.7,272 207.2,266 211.1,260 215.9,256 223.1,252 232,248.4 278,234 294,225.7 304,218.5 308,214.9 312.1,210 316,201.1 317.1,190 317.4,174 322.5,152 326,145.2 330,140 342,130.5 348,124.9 354.6,118 360.6,110 368,95.2 373.6,82 374.2,78 373.5,72 374.3,68 381,56 382.6,50 384,50ZM330,83.8 330.4,84 330.3,86 328,86.1 330,83.8Z" fill="#ffdf00" stroke="#ffdf00" stroke-width="0.6"/>
<path d="M316,50 320.9,50 318.3,56 314.3,62 304,74.7 290,101.3 288,103.6 286,104.7 278,105.8 240,104.5 214,105.6 192,108.4 144,117.1 120,119.7 120,113.5 146,111.7 204,103.9 232,102.6 274,104.6 284.2,104 288,102 289.3,100 302,73.2 312.8,56 315.4,50 316,50ZM386,50 388.9,50 385.3,58 380.6,66 379.9,76 378.9,80 371.1,98 365,110 360.9,116 355.9,122 330,147.7 326,152.7 324.3,156 319.3,176 318.9,190 317.8,202 314,211.2 308,218 296,227.3 280,236 233.6,250 224,253.9 218,257.5 212.9,262 209.5,268 208.7,272 209.6,282 209.2,286 206.9,290 204,292.2 199,294 182,296.9 174,299 156,306.2 142,307.1 136,308.3 130,310.4 120,315.8 120,312.4 132,307.5 140,305.9 156,305 174,297.8 184,295.4 198,293 202,291.7 206,288.9 207.7,286 208.2,282 207.3,272 208.8,266 211.2,262 216,257.5 222,253.7 232,249.5 278,235.4 295.9,226 308,216.5 313.4,210 316.8,202 318,191.9 318.5,174 322.7,156 324,152.5 330,144 344,131.3 353.3,122 362.7,110 368.9,98 375.9,82 376.8,78 377.1,70 378,66 383.7,56 385.6,50 386,50ZM120.2,382 122,384.2 123.5,388 124.4,394 123.2,402 122,405.1 120,407.7 120.2,382Z" fill="#ffd200" stroke="#ffd200" stroke-width="0.6"/>
<path d="M310,52 310.5,50 315.4,50 313.9,54 302,73.2 289.3,100 288,102 284.2,104 276,104.7 240,102.7 216,103 194,105 144,111.9 120,113.5 120,107.4 148,106.4 202,101.2 230,100.5 274,103.4 280,103.3 284,102.6 286,101.7 288.8,98 300,71.6 310,52ZM390,50 394.7,50 390,55.8 384,65.5 383.6,68 384.3,74 383.2,78 378,87.9 371,104 366.6,112 358.9,122 332,148.9 326,156.4 322,168 320.2,176 319.1,198 318.1,204 314.7,212 308,219.5 297,228 280,237.4 234,251 226,254.2 219.4,258 214,262.8 210.9,268 210,274 210.8,282 210.6,286 208.7,290 204,293.4 200,294.8 184,297.6 176,299.5 156,307.2 144,308.3 138,309.5 130,312.9 120,319.6 120,315.8 128,311.4 134,308.9 142,307.1 156,306.2 174,299 182,296.9 199,294 204,292.2 206.9,290 209.2,286 209.6,282 208.7,272 209.5,268 212.9,262 218,257.5 224,253.9 233.6,250 280,236 296,227.3 308,218 314,211.2 317.8,202 318.9,190 319.3,176 321.4,166 325.2,154 332,145.6 357.7,120 365,110 371.1,98 378.9,80 380.1,74 380.2,68 381.4,64 385.3,58 388.9,50 390,50ZM120.4,374 124,378.5 126.9,384 128.3,388 128.9,394 128.4,402 126.9,408 124,413.4 120,418.7 120,407.7 122,405.1 123.2,402 124.4,394 123.5,388 122,384.2 120,381.8 120,373.6 120.4,374ZM120.6,448 123.9,454 124.9,458 124,460.7 120,461.9 120,447.2 120.6,448Z" fill="#ffc600" stroke="#ffc600" stroke-width="0.6"/>
<path d="M306,50.8 306.2,50 310.5,50 309.1,54 300,71.6 288.8,98 286,101.7 284,102.6 280,103.3 274,103.4 240,100.8 216,100.5 194,101.8 146,106.5 120,107.4 120,101.4 148,101.4 202,98.3 230,98.3 272,101.9 278,102 282,101.5 285.4,100 288,96.4 298,69.8 306,50.8ZM394,50.9 394.7,50 403.1,50 402.5,52 400,55.2 394.8,60 392.3,64 391.5,68 391.9,76 390.6,80 388,83.4 382,89.1 380.1,92 375.3,104 371.1,112 362.8,122 330.2,154 326.2,160 323.2,168 321.1,176 319.9,198 319,204 315.9,212 309,220 298,228.7 280,238.8 234.5,252 226,255.4 220,259 214.6,264 212.2,268 211.1,274 211.9,286 210.3,290 206,293.6 200,295.8 184,298.5 174,301.1 156,308.2 144,309.6 138,311.2 129.2,316 120,324.3 120,319.6 128,314 136,310.2 144,308.3 156,307.2 174,300.1 184,297.6 200,294.8 206,292.3 208.7,290 210.6,286 210.8,282 210,274 210.9,268 214,262.8 219.4,258 226,254.2 234,251 280,237.4 297,228 308,219.5 314.7,212 318.1,204 319.1,198 320.2,176 322,168 326,156.4 332,148.9 358.9,122 366.6,112 371,104 378,87.9 383.2,78 384.3,74 383.6,68 384,65.5 390,55.8 394,50.9ZM121.6,368 130,382 131.6,386 132.4,390 132.2,408 130.7,412 125.1,422 124,426 123.8,430 125,436 131.3,450 133.4,456 134.1,460 133.7,462 132.5,464 130.1,466 126,467.6 122,468 120,467.9 120,461.9 124,460.7 124.9,458 123.9,454 122,449.9 120,447.2 120,418.7 124,413.4 126.9,408 128.4,402 128.9,394 128.3,388 126.9,384 123.6,378 120,373.6 120,366.2 121.6,368Z" fill="#ffb900" stroke="#ffb900" stroke-width="0.6"/>
<path d="M302,51 302.2,50 306.2,50 305.7,52 297.1,72 290.7,90 288,96.4 286,99.4 282,101.5 274,102 238,98.8 216,98 196,98.5 148,101.4 120,101.4 120,95.3 150,96.3 196,95.3 216,95.4 238,96.7 272,100.3 280.9,100 284.6,98 288,92.2 302,51ZM404,50 407.1,50 406.8,52 406,54 399.4,64 398.2,68 396.4,78 394.9,82 392,87.4 384.1,98 376,113.3 370.6,120 360,128.7 348,140.9 336,151 331.1,156 328,160.2 324,169.1 322,176 320.5,200 319.3,206 316,213.8 310,220.6 300,228.7 282,239.4 272,242.7 234,253.4 226,256.7 220.6,260 216.1,264 213.6,268 212.3,274 213.2,284 212.7,288 210.2,292 207.5,294 202,296.3 184,299.4 176,301.5 158,308.6 146,310.4 140,312.2 132.9,316 128.3,320 120,331 120,324.3 129.2,316 136.1,312 144,309.6 156.6,308 174,301.1 184,298.5 200,295.8 204,294.6 208,292.3 210.3,290 211.9,286 211.1,274 212.2,268 216,262.4 222,257.6 228,254.5 234.5,252 280,238.8 298,228.7 309,220 315.9,212 319,204 319.9,198 321.1,176 323.9,166 327.2,158 332,152.1 346.9,138 364.7,120 369.7,114 374.3,106 380.1,92 382,89.1 388,83.4 390.6,80 391.9,76 391.5,68 392.3,64 394.8,60 401.1,54 403.1,50 404,50ZM120.5,358 132.4,380 134.2,384 135.2,388 136.6,410 135.5,414 130.5,422 129.6,426 130.2,430 132,433.6 134,435.8 138,438.2 140,438.1 144,435.9 148,435.4 150,435.8 152,437.2 153,438 153.9,440 152,442.1 144.1,446 142.8,448 142.5,452 144.1,460 143.6,462 141.5,464 134.6,468 128,470.6 124,471.3 120,471.2 120,467.9 126,467.6 130.1,466 132.5,464 133.7,462 134.1,460 133.4,456 131.3,450 125,436 123.8,430 124,426 125.1,422 130.7,412 132.2,408 132.6,392 132,387.5 130,382 122,368.4 120,366.2 120,357.2 120.5,358Z" fill="#ffac00" stroke="#ffac00" stroke-width="0.6"/>
<path d="M300,50 302.2,50 301.8,52 295.2,70 288.1,92 284.6,98 280.9,100 272,100.3 238,96.7 216,95.4 196,95.3 150,96.3 120,95.3 120,89.1 152,91.3 216,92.7 238,94.5 270,98.5 276,98.6 280,98.1 283.5,96 286,91.9 288.1,86 298.5,50 300,50ZM408,50 409.8,50 409.4,52 408,55.5 403.8,62 401.9,66 397.8,82 394,89.1 386.7,100 378,115.6 372.9,122 362,130.6 350,142.1 336,153.9 330.3,160 328,163.7 324,172.3 322.5,178 321.1,202 319.1,210 316,215.8 310,222.4 298,231.6 282,241 252,249.9 236,254 228,257 222,260.4 217.8,264 214.9,268 213.5,274 214.4,284 214,288 211.9,292 208,294.9 202,297.2 180,301.3 172,303.7 158,309.5 144,312.2 136.4,316 131.7,320 128.3,324 125.9,328 123.5,334 122.2,340 122.2,346 123.1,352 125.6,360 129.1,368 135.3,380 137.4,386 138.3,400 140.1,408 140.4,412 140,417 138.2,424 143,428 150,431.9 155.4,436 159,440 160,442 159,444 155.5,446 153.3,448 151.4,452 152,456.6 157,466 156,466.9 154.4,468 152,468.6 140,470.2 128,473.2 120,473.6 120,471.2 126,471 130,469.9 138.3,466 143.6,462 144.1,460 142.5,452 142.8,448 144.1,446 152,442.1 153.9,440 153,438 152,437.2 150,435.8 148,435.4 144,435.9 140,438.1 138,438.2 134,435.8 132,433.6 130.2,430 129.6,426 130.5,422 135.5,414 136.6,410 135.6,400 135.4,390 134.8,386 133.3,382 120,357.2 120,331 128.3,320 132.9,316 140,312.2 146,310.4 158,308.6 176,301.5 184,299.4 202,296.3 207.5,294 210.2,292 212.7,288 213.2,284 212.3,274 213.6,268 216.1,264 220.6,260 226,256.7 234,253.4 272,242.7 282,239.4 300,228.7 310,220.6 316,213.8 319.3,206 320.5,200 322,176 324,169.1 328,160.2 331.1,156 336,151 348,140.9 358,130.6 370.6,120 374,116.1 378.2,110 384.1,98 394,84 396,79.4 398.2,68 399.4,64 406,54 407.1,50 408,50ZM166,445.9 170.1,448 170.8,450 170,451.3 168,451.7 165.2,450 164.4,448 165.5,446 166,445.9Z" fill="#ff9f00" stroke="#ff9f00" stroke-width="0.6"/>
<path d="M296,50 298.5,50 298.1,52 288,86.4 286,91.9 284,95.4 282,97.2 280,98.1 276,98.6 270,98.5 238,94.5 216,92.7 152,91.3 120,89.1 120,82.8 152,86.2 216,89.8 234,91.6 266,96.1 274,96.6 278,96.1 282,93.8 285.1,88 294.8,50 296,50ZM410,50 411.9,50 411.5,52 409.9,56 404.2,66 399.9,82 380,116.4 374,123.8 363.6,132 336,156.6 332,160.9 328,166.6 325.3,172 323.4,178 322,202 320.4,210 317.6,216 310.4,224 298,233.4 284,242 254,251.1 236,255.3 228,258.3 222,261.9 217.6,266 216,268.6 214.9,272 214.7,276 215.6,286 214.7,290 212,293.5 208.1,296 202,298.1 190,300 180,302.2 172,304.7 158,310.5 146,312.9 142,314.6 137,318 131.6,324 128.3,330 126.5,336 125.8,342 126.1,348 127.2,354 129.7,362 137.8,380 139.1,384 140.2,398 144.7,422 146.7,426 162,440 166,442.9 171.9,446 179.3,452 180.9,454 180.9,456 173.5,466 171.1,468 164,471.1 158,472.5 140,473.7 126,475.6 120,475.5 120,473.6 128,473.2 140,470.2 152,468.6 154.4,468 156,466.9 157,466 152,456.6 151.4,452 153.3,448 155.5,446 159,444 160,442 159,440 155.4,436 150,431.9 143,428 138.2,424 140,417 140.4,412 140.1,408 138.3,400 137.4,386 135.3,380 129.1,368 125.6,360 123.1,352 122.2,346 122.2,340 123.5,334 125.9,328 128.3,324 131.7,320 136.4,316 144,312.2 158,309.5 172,303.7 180,301.3 202,297.2 208,294.9 211.9,292 214,288 214.4,284 213.5,274 214.9,268 217.8,264 222,260.4 228,257 236,254 252,249.9 282,241 298,231.6 310,222.4 316,215.8 319.1,210 321.1,202 322.5,178 324,172.3 328,163.7 330.3,160 336,153.9 350,142.1 362,130.6 372.9,122 376,118.4 380,112.7 386.7,100 394,89.1 397.8,82 401.9,66 403.8,62 408,55.5 410,50ZM165.5,446 164.4,448 165.2,450 168,451.7 170,451.3 170.8,450 170.1,448 165.5,446Z" fill="#ff9300" stroke="#ff9300" stroke-width="0.6"/>
<path d="M292,50 294.8,50 294.5,52 286,85.4 284,90.7 282,93.8 278,96.1 274,96.6 266,96.1 234,91.6 216,89.8 152,86.2 120,82.8 120,76.4 152,81 214,86.6 234,89 264,93.7 270,94.2 274.8,94 278,93 280,91.5 283.1,86 285.8,76 291.2,50 292,50ZM412,50 413.9,50 413.4,52 406,66.7 401.9,82 382,116.5 376.1,124 354,142.7 336,159.4 328,169.3 325.6,174 324,179.4 322.9,204 321.5,212 318.3,218 312,225.1 302,233.1 286,243.4 254,253.1 238,256.1 230,258.8 224,262 219.2,266 216.7,270 215.8,274 216.7,284 216.5,288 215,292 213.3,294 210.3,296 204,298.7 188,301.3 178,303.7 160,310.8 146.5,314 140.1,318 134.8,324 131.6,330 129.9,336 129.3,342 129.8,350 132.8,362 140.6,382 142.4,400 146.5,420 148.2,424 153.3,430 164,439.7 178,448 182,449.6 188,450.2 198,447 198.9,448 199,450 197.6,454 193.9,458 191.1,460 184,463.5 178.3,468 174.9,470 169.8,472 162.7,474 156,475 126,477.3 120,477.2 120,475.5 126,475.6 140,473.7 158,472.5 167.3,470 171.1,468 173.5,466 180.9,456 180.9,454 179.3,452 171.9,446 166,442.9 162,440 146.7,426 144.7,422 140.2,398 139.1,384 137.8,380 129.7,362 127.2,354 126.1,348 125.8,342 126.5,336 128.3,330 131.6,324 137,318 142,314.6 146,312.9 158,310.5 172,304.7 180,302.2 190,300 202,298.1 208.1,296 212,293.5 214.7,290 215.6,286 214.7,276 214.9,272 216,268.6 217.6,266 222,261.9 228,258.3 236,255.3 254,251.1 284,242 298,233.4 310.4,224 317.6,216 320.4,210 322,202 323.4,178 325.3,172 328,166.6 332,160.9 336,156.6 363.6,132 374,123.8 380,116.4 399.9,82 404.2,66 410,55.8 412,50Z" fill="#ff8600" stroke="#ff8600" stroke-width="0.6"/>
<path d="M288,50 291.2,50 284,83.3 282,88.6 280,91.5 278,93 274.8,94 270,94.2 264,93.7 234,89 214,86.6 152,81 120,76.4 120,69.8 158,76.5 216,83.6 262,90.9 272,91.3 276,90.1 278,88.5 280.6,84 282.8,76 287.6,50 288,50ZM414,50 416,50 415.5,52 408,66.6 403.8,82 383,118 378,124.1 350.5,148 344,155.4 334,164.6 328,171.9 325.9,176 324.7,182 323.9,194 324.1,208 323.7,214 321,220 314,227.9 308,232.8 296,241.2 286,246.6 274,249.2 256,255 244,256.3 236.5,258 230,260.2 224,263.5 219.2,268 217.4,272 217,276 217.9,286 216.5,292 214,294.9 210,297.3 204,299.6 190,301.8 180.3,304 173.9,306 160,311.9 150,314 145.5,316 142.8,318 139.3,322 135.8,328 133.7,334 132.9,340 133.1,348 135.9,362 142,380.1 142.9,386 143.5,398 147.8,418 150.2,424 155,430 164,438.3 168,441 180,446.9 184,447.5 188,446.7 192,444.1 198,438.4 204,434.8 206,434.5 209,436 210.4,438 211,442 210,446 204.5,454 201.1,458 196,461.9 192.4,464 175.9,472 169.7,474 158,476.6 141,478 120,478.6 120,477.2 126,477.3 156,475 162.7,474 169.8,472 174.9,470 178.3,468 184,463.5 191.1,460 193.9,458 197.6,454 199,450 198.9,448 198,447 188,450.2 182,449.6 178,448 164,439.7 153.3,430 148.2,424 146.5,420 142.4,400 140.6,382 132.8,362 129.8,350 129.3,342 129.9,336 131.6,330 134.8,324 140.1,318 146.5,314 160,310.8 178,303.7 188,301.3 204,298.7 210.3,296 213.3,294 215,292 216.5,288 216.7,284 215.8,274 216.7,270 219.2,266 224,262 230,258.8 238,256.1 254,253.1 286,243.4 302,233.1 312,225.1 318.3,218 321.5,212 322.9,204 324,179.4 325.6,174 328,169.3 336,159.4 354,142.7 376.1,124 380.9,118 401.9,82 405.5,68 408.2,62 411.8,56 414,50Z" fill="#ff7900" stroke="#ff7900" stroke-width="0.6"/>
<path d="M284,50 287.6,50 281.9,80 280,85.5 278,88.5 276,90.1 272,91.3 262,90.9 216,83.6 158,76.5 120,69.8 120,62.8 144,68.3 164,72.1 218,80.4 258,87.5 264,88.2 269.8,88 274.5,86 276.4,84 278,80.9 280.4,72 284,50ZM416,50.1 418.5,50 410,66.8 405.8,82 392,105.2 385,118 378,125.8 368.3,134 362,140.4 352.8,148 345.2,158 332,169.8 327.4,176 326,180 324.9,194 326,204.4 328,207.7 330,208.4 334,207.5 338,205.7 340.7,206 342.8,208 343.6,212 342,214.6 340,213.8 339.4,214 341.3,218 341.6,220 341.1,224 339.6,226 334,228.9 328,233.3 323.3,236 310,241.9 302,244.5 286,251.2 282,251.9 275.4,252 258,257.5 245.6,258 240,258.8 234,260.2 228,262.6 222,266.8 220,269.2 218.7,272 218.1,276 219,284 218.9,288 217.8,292 216.6,294 214.5,296 206,300.1 184,304 174,307.1 160,313 150,315.3 145.5,318 142.2,322 139.2,328 137.3,334 136.5,340 136.9,348 139,362 143.7,380 144.4,394 145.6,402 149.2,418 151.9,424 156.5,430 165.3,438 170,440.9 180,445.3 184,445.6 188,444.3 190,442.9 196,436.2 200,432.8 202,431.7 206,430.9 209.5,432 212,434.3 213.7,438 214,442.9 213.2,446 211.2,450 206.8,456 202.7,460 193.5,466 180.4,472 174,474.4 158,478 142,479.4 120,480 120,478.6 141,478 158,476.6 169.7,474 175.9,472 192.4,464 196,461.9 201.1,458 204.5,454 210,446 211,442 210.4,438 209,436 206,434.5 204,434.8 198,438.4 192,444.1 188,446.7 184,447.5 180,446.9 168,441 164,438.3 155,430 150.2,424 147.8,418 143.5,398 142.9,386 142,380.1 135.9,362 133.1,348 132.9,340 133.7,334 135.8,328 139.3,322 142.8,318 145.5,316 150,314 160,311.9 173.9,306 180.3,304 190,301.8 204,299.6 210,297.3 214,294.9 216.5,292 217.9,286 217,276 217.4,272 219.2,268 224,263.5 230,260.2 236.5,258 244,256.3 256,255 274,249.2 286,246.6 296,241.2 308,232.8 314,227.9 321,220 323.7,214 324.1,208 323.9,194 324.7,182 325.9,176 328,171.9 334,164.6 344,155.4 350.5,148 378,124.1 383,118 391.9,102 402.8,84 404.5,80 406.2,72 408,66.6 413.6,56 416,50.1ZM230,309.9 232,309.3 235,310 240,313.9 242,314.6 248,312.9 250,312.9 250.6,314 250.4,316 248,320.1 235.9,332 230,336.2 226,338.1 224,338.2 222,336.1 221.4,334 220,331.8 219.5,330 219.8,326 221.4,322 226,314 230,309.9Z" fill="#ff6c00" stroke="#ff6c00" stroke-width="0.6"/>
<path d="M280,50 283.8,50 281.1,68 279,78 277.5,82 274.5,86 272,87.4 268,88.2 256,87.2 220,80.8 163.4,72 142.6,68 120,62.8 120,55.5 146,62.5 170.9,68 252,83.3 260,84.3 266,84.3 270,83.1 272,81.7 274,79 275.3,76 277.7,66 280,50ZM418,51.4 418.5,50 421.8,50 414,63.6 412.1,68 409,80 407.4,84 396,102.2 387.3,118 382,124 368.2,136 364,141.1 354,149.6 346,163.3 342,168.7 332,173.4 330,175.3 328,178.5 326,194 326.4,198 328,202.1 330,203.3 332,203.1 338,200.4 340,200 342,200.3 344,201.7 345.9,204 347.6,208 348.6,216 344.4,226 342.9,228 335.1,232 328,238.3 324,240.7 312,246.8 302.8,250 288,256.6 284,257.6 274,257.9 266,260.6 262,261.3 256,261.5 244,260.4 236,261.4 230,263.2 224,266.8 222,268.7 220,272 219.4,276 220.1,288 219.2,292 218.2,294 216,296.4 212,298.8 206,301.3 188.9,304 176,307.5 162,313.5 151.7,316 148.1,318 146.3,320 144.3,324 141.5,332 140.7,336 140.6,342 142.2,362 145.4,380 146.1,398 148.5,410 150.5,418 152.2,422 156.2,428 164.2,436 170,439.9 178,443.4 182,444.1 186,443.5 190,440.6 198,431.5 202,429.2 206,428.5 210.7,430 214.5,434 216.1,438 216,444 213.7,450 209.5,456 205.7,460 197.1,466 184.6,472 173.3,476 158,479.2 142,480.6 120,481.2 120,480 142,479.4 158,478 174,474.4 180.4,472 193.5,466 202.7,460 206.8,456 211.2,450 213.2,446 214,442.9 213.7,438 212,434.3 209.5,432 206,430.9 202,431.7 200,432.8 196,436.2 190,442.9 188,444.3 184,445.6 180,445.3 170,440.9 165.3,438 156.5,430 151.9,424 149.2,418 145.6,402 144.4,394 143.7,380 139,362 136.9,348 136.5,340 137.3,334 139.2,328 142.2,322 145.5,318 150,315.3 160,313 174,307.1 184,304 206,300.1 214.5,296 216.6,294 217.8,292 218.9,288 219,284 218.1,276 218.7,272 220,269.2 222,266.8 228,262.6 234,260.2 240,258.8 245.6,258 258,257.5 275.4,252 282,251.9 286,251.2 302,244.5 310,241.9 323.3,236 328,233.3 334,228.9 339.6,226 341.1,224 341.6,220 341.3,218 339.4,214 340,213.8 342,214.6 343.6,212 342.8,208 340.7,206 338,205.7 334,207.5 330,208.4 328,207.7 326,204.4 324.9,194 326,180 327.4,176 332,169.8 345.2,158 352.8,148 362,140.4 368.3,134 378,125.8 385,118 393.9,102 404.9,84 406.5,80 408.2,72 410,66.8 418,51.4ZM258,291.8 261.2,292 263.4,294 264.1,296 264.1,300 261.5,310 258.7,316 256,320.2 250,327.1 244.7,332 239.9,336 233.6,340 228,342.9 224,344 220,343.2 218.4,342 214.7,336 214.2,334 214.6,330 218.3,322 226,310.8 230,307.2 242,303 254,293.8 258,291.8ZM229.8,310 226,314 221.4,322 219.8,326 219.5,330 220,331.8 221.4,334 222,336.1 224,338.2 226,338.1 230,336.2 235.9,332 248,320.1 250.4,316 250.6,314 250,312.9 248,312.9 242,314.6 240,313.9 234,309.6 232,309.3 229.8,310Z" fill="#ff6000" stroke="#ff6000" stroke-width="0.6"/>
<path d="M122,50 131,50 134.5,52 140.2,54 172,62.6 242,77.7 258,79.9 262,79.8 266,78.6 268,77.3 270,75.1 272,70.8 273.3,66 275.4,50 279.8,50 276.9,70 274,79 272,81.7 270,83.1 266,84.3 262,84.4 248,82.6 181.3,70 146,62.5 120,55.5 120,50 122,50ZM422,50 426.4,50 420,59.7 416.6,66 410.5,84 398,103.7 391.3,116 386.7,122 376,130.4 370.1,136 364,144.9 357.8,150 355.2,154 353.9,160 354.3,170 353.9,174 346.7,194 347.3,198 350.6,206 352.4,216 351.6,220 347.7,228 344,231.7 336,235.9 332,240.2 328,243.4 314,251.7 304,256.2 292.9,264 288.2,268 284,274.1 268,306 262.5,316 258.4,322 251.1,330 244,336.5 239.3,340 230,345.3 224,347.2 220,347.5 216,345.6 211.7,340 210.5,336 210.9,332 213.4,326 217.1,320 224.6,310 228,306.3 242.2,296 254.5,282 257.2,278 258.6,274 258.5,272 257.9,270 256.4,268 253.7,266 250,264.4 244,263.2 238,263 232,264 227.6,266 222.8,270 221.5,272 220.7,276 221.5,286 221.1,290 219.8,294 218.3,296 215.9,298 210,301.1 206,302.5 195.2,304 178.3,308 162,315.1 152,317.6 149.1,320 145.4,334 145.1,338 145.9,346 146,366 147.2,380 146.9,394 149.1,408 151.8,418 153.5,422 157.6,428 166,436.3 172,439.8 180,442.7 184,442.6 188,440.5 196,430.8 200,427.9 206,426.6 210,427.5 213.8,430 216.7,434 218.1,438 217.8,444 215.7,450 211.6,456 208.1,460 200,466.1 188,472.2 174,477.1 158,480.4 142,481.8 120,482.3 120,481.2 142,480.6 160,478.9 174,475.8 184.6,472 197.1,466 205.7,460 209.5,456 213.7,450 216,444 216.1,438 214.5,434 210.7,430 206,428.5 202,429.2 198,431.5 190,440.6 186,443.5 182,444.1 178,443.4 170,439.9 164.2,436 156.2,428 152.2,422 150.5,418 148.5,410 146.1,398 145.4,380 142.2,362 140.6,342 140.7,336 141.5,332 144.3,324 146.3,320 148.1,318 151.7,316 162,313.5 176,307.5 188.9,304 206,301.3 212,298.8 216,296.4 218.2,294 219.2,292 220.1,288 219.4,276 220,272 222,268.7 224,266.8 230,263.2 236,261.4 244,260.4 256,261.5 262,261.3 266,260.6 274,257.9 284,257.6 288,256.6 302.8,250 312,246.8 324,240.7 328,238.3 335.1,232 342.9,228 344.4,226 348.6,216 347.6,208 345.9,204 344,201.7 342,200.3 340,200 338,200.4 332,203.1 330,203.3 328,202.1 326.4,198 326,194 328,178.5 330,175.3 332,173.4 342,168.7 346,163.3 354,149.6 364,141.1 368.2,136 382,124 387.3,118 396,102.2 407.4,84 409,80 410.8,72 412.9,66 422,50ZM329.6,186 328,190.2 328,195.9 330,198.7 332,198.7 335.3,196 335.9,194 335.5,192 332,186.5 330,184.7 329.6,186ZM257.5,292 254,293.8 242,303 230,307.2 226,310.8 218.3,322 214.6,330 214.2,334 214.7,336 218.4,342 220,343.2 224,344 228,342.9 233.6,340 239.9,336 244.7,332 250,327.1 256,320.2 258.7,316 261.5,310 264.1,300 264,295.7 262,292.3 260,291.6 257.5,292Z" fill="#ff5300" stroke="#ff5300" stroke-width="0.6"/>
<path d="M132,50 153.8,50 157.5,52 163.3,54 201,64 236,72.1 246.8,74 254,74.6 260,73.8 263.4,72 265.3,70 267.4,66 268.7,62 270.4,50 275.4,50 273.3,66 272,70.8 270,75.1 268,77.3 266,78.6 262,79.8 258,79.9 242,77.7 170,62.1 140.2,54 134.5,52 131,50 132,50ZM426,50.8 426.4,50 435.1,50 430,55 427.8,58 422,68.9 415,84 400.6,106 395.1,116 387.8,124 376,132 372.1,136 369.5,140 368.8,146 369.4,148 372.5,152 373.8,156 373,164 369.9,180 368.3,184 366,186.4 356,192.2 354.3,194 353.4,196 353.6,200 357.8,214 358.2,218 357,222 353.5,228 348,234 308,265.2 292,281.1 278,297.1 262.7,320 252.1,332 244,339.3 237.1,344 230,347.9 222,350.6 218,351 214,349.7 209.8,346 207.4,342 207,338 208.9,330 216,318.2 226,305.9 240.6,292 248.9,282 251,278 251.6,274 251.3,272 250,269.6 248.2,268 246,266.9 238,265.2 234,265.3 230,266.5 226,268.9 223.3,272 222.1,276 222.9,286 222.1,292 220.3,296 216,299.6 208,303.5 183.4,308 172.5,312 162,317.5 153,320 152,322.8 154,327.6 156,328.1 162,325.6 166,326.2 169.1,328 171,330 172,332 172.7,336 172,343.1 170,352.3 168,358 166,361.2 164,363.2 162,363.4 158.6,360 156,355.3 154,355.1 150.6,366 148.3,394 150,406.9 153.1,418 154.9,422 158.9,428 167,436 174,439.7 180,441.4 184,441.2 186.4,440 188.5,438 194,430.6 198,427.1 204,425 210,425.7 214.1,428 216.2,430 218.7,434 219.8,438 219.4,444 217.4,450 213.4,456 210,460.1 202,466.5 188,473.6 175.2,478 158,481.5 142,482.9 120,483.5 120,482.3 142,481.8 160,480.1 176,476.5 188,472.2 200,466.1 208.1,460 211.6,456 215.7,450 217.8,444 218.1,438 216.7,434 213.8,430 210,427.5 206,426.6 200,427.9 196,430.8 188,440.5 184,442.6 180,442.7 172,439.8 166,436.3 157.6,428 153.5,422 151.8,418 149.1,408 146.9,394 147.2,380 146,366 145.9,346 145.1,338 145.4,334 149.1,320 152,317.6 162,315.1 178.3,308 195.2,304 206,302.5 210,301.1 215.9,298 218.3,296 219.8,294 221.1,290 221.5,286 220.7,276 221.5,272 222.8,270 227.6,266 232,264 238,263 244,263.2 250,264.4 253.7,266 256.4,268 257.9,270 258.5,272 258.6,274 257.2,278 254.5,282 242.2,296 228,306.3 224.6,310 217.1,320 213.4,326 210.9,332 210.5,336 211.7,340 216,345.6 220,347.5 224,347.2 230,345.3 239.3,340 244,336.5 251.1,330 258.4,322 262.5,316 268,306 284,274.1 288.2,268 292.9,264 304,256.2 314,251.7 328,243.4 332,240.2 336,235.9 344,231.7 347.7,228 351.6,220 352.4,216 350.6,206 347.3,198 346.7,194 353.9,174 354.3,170 353.9,160 354.6,156 356,152.2 357.8,150 364,144.9 370.1,136 376,130.4 386.7,122 389.9,118 398,103.7 410.5,84 416.6,66 420,59.7 426,50.8ZM546,50 560.2,50 552,50.5 546,50ZM576,50 599.5,50 598,52.3 592,57.5 588,59.8 586,60.2 584,59.7 582,58 579.6,54 574.6,50 576,50ZM330,184.7 332,186.5 334.3,190 335.9,194 335.3,196 332,198.7 330,198.7 328,195.9 328,190.2 330,184.7Z" fill="#ff4600" stroke="#ff4600" stroke-width="0.6"/>
<path d="M154,50 176.2,50 180,52 185.9,54 215.1,62 236,66.7 248,68.1 254,67.4 258,65.5 260,63.5 262,60 263.8,54 264.4,50 270.4,50 268.7,62 266,69 264,71.5 262,72.9 258,74.3 254,74.6 246.8,74 236,72.1 201,64 163.3,54 157.5,52 154,50ZM434,51.1 435.1,50 464.5,50 461.1,52 452,55.8 440,59.4 436,61.9 432,66.6 426,75.4 399.2,118 392.6,124 378.1,132 372.9,138 372.1,140 372.1,142 372.8,144 379.1,152 380.8,158 380.9,164 378.5,186 376,193.9 369.7,204 367.7,216 366.3,220 362.5,226 355.7,234 328.9,256 284,296.7 276,305.5 261.9,324 248,338.3 240,344.5 230.6,350 220,353.7 216,354.1 212,353.3 208,350.8 205.6,348 204.2,344 204.2,338 207.4,328 216.3,314 246.5,280 247.9,276 247.8,274 247,272 244,269.5 238,267.4 234,267.2 230,268.4 225.4,272 223.8,276 224.5,286 223.6,294 221.2,298 218,300.7 214,303.1 208,305.7 184.3,310 179.2,312 175.9,314 171.8,318 174,318.9 176,320.6 177.3,330 177.1,336 174.4,352 170,367.5 168,372.7 166,374.7 164,375.4 156,374.8 154,376.2 152,380.2 150.3,388 149.8,394 151.1,406 153.7,416 155.2,420 158.8,426 165.9,434 170,436.8 178,439.9 182,440.2 186,438.6 194,428.3 196.7,426 200,424.3 204,423.4 208,423.5 214.2,426 216.7,428 219.7,432 221.3,436 221.5,440 220.4,446 219,450 214,457.6 209.9,462 202,468 190,474.2 178,478.5 156,482.8 142,484 120,484.6 120,483.5 142,482.9 160,481.2 176,477.8 188,473.6 202,466.5 210,460.1 213.4,456 217.4,450 219.4,444 219.8,438 218.7,434 216.2,430 214.1,428 210,425.7 204,425 198,427.1 194,430.6 188.5,438 186.4,440 184,441.2 180,441.4 174,439.7 167,436 158.9,428 154.9,422 153.1,418 150,406.9 148.3,394 150.6,366 154,355.1 156,355.3 158.6,360 162,363.4 164,363.2 166,361.2 168,358 170,352.3 172,343.1 172.7,336 172,332 171,330 169.1,328 166,326.2 162,325.6 156,328.1 154,327.6 152,322.8 153,320 162,317.5 172.5,312 183.4,308 208,303.5 216,299.6 220.3,296 222.1,292 222.9,286 222.1,276 223.3,272 226,268.9 230,266.5 234,265.3 238,265.2 246,266.9 248.2,268 250,269.6 251.3,272 251.6,274 251,278 248.9,282 240.6,292 226,305.9 216.1,318 208.9,330 207.2,336 207,340 208.3,344 210,346.2 214,349.7 218,351 222,350.6 230,347.9 237.1,344 244,339.3 252,332.1 262.7,320 278,297.1 292,281.1 308,265.2 348,234 353.5,228 357,222 358.2,218 357.8,214 353.6,200 353.4,196 354.3,194 356,192.2 366,186.4 368.3,184 369.9,180 373,164 373.8,156 372.5,152 369.4,148 368.8,146 369.5,140 372.1,136 376,132 387.8,124 395.1,116 400.6,106 415,84 422,68.9 427.8,58 434,51.1ZM492,50 545.1,50 552,50.5 574.6,50 579.6,54 582,58 584,59.7 586,60.2 588,59.8 592,57.5 598,52.3 599.5,50 610.7,50 606.8,54 594,63.8 588,67.3 580,69.2 564,69.5 554,68.9 540,66 520,63.2 508,58.7 494.1,52 490.9,50 492,50Z" fill="#ff3900" stroke="#ff3900" stroke-width="0.6"/>
<path d="M178,50 199.1,50 203,52 208,53.6 222,57.3 234,59.6 242,60.2 246,59.8 250.6,58 254,54.7 256,50 264.4,50 262.7,58 259.6,64 257.3,66 254,67.4 248,68.1 242,67.7 232.2,66 207.4,60 180,52 176.2,50 178,50ZM462,51.4 464.5,50 490.9,50 494.1,52 510,59.7 520,63.2 540,66 556,69.2 574,69.4 584,68.5 590,66.4 606.8,54 610.7,50 631.3,50 627.6,52 616,56.2 604,63.4 594.5,70 588,73.2 578,76.4 564,78.5 550,79 512,73.9 502,70.9 484,61.8 476,60.2 472,60.3 466,61.4 444,68.1 440,70 436,72.9 432,77.1 427,84 409.4,116 406,121.1 402.5,124 398.7,126 381.7,132 378.8,134 375.9,138 375.5,140 376,142 384.6,152 387,158 387.3,164 386.5,178 387.9,202 387.1,206 385,210 380.4,216 371.5,226 358,239 334.5,258 308,282.4 282,303.6 276,309.7 264.2,324 254,334.9 246,342.4 234,350.7 222,355.7 214,357.2 210,356.5 206,354.5 204,352.7 202.3,350 201,344 201.7,338 205,328 212.3,316 213,312 212,309.8 208,310 200,313.1 195.5,318 188,323.4 183.9,328 182.3,332 180,340.4 176.8,356 173.5,366 171.8,374 170,378.5 168,381 166,382.4 164,382.9 158,382.5 156,383.2 154,385.4 153,388 152,391.6 151.9,396 152.4,404 154,412 155.8,418 157.8,422 160.2,426 165.3,432 170,435.8 178,438.7 182,438.8 184.3,438 186.6,436 194,426 196.8,424 200,422.6 204,421.9 208,422 212,423 216,425.2 219.1,428 221.7,432 223.3,438 222.9,442 221.4,448 219.5,452 215.4,458 211.9,462 202,469.6 190,475.7 178,479.8 156,483.9 144,485 120,485.8 120,484.6 144,483.9 160,482.3 176,479.1 188,475 202,468 209.9,462 213.7,458 216.5,454 220,447.4 221.5,440 220.6,434 216.7,428 212,424.7 206,423.3 202,423.7 198,425.2 194,428.3 186,438.6 184,439.7 180,440.2 172,437.8 165.9,434 158.8,426 154,417 151.6,408 150.1,398 149.8,392 150.6,386 152,380.2 154,376.2 156,374.8 164,375.4 166,374.7 168,372.7 170,367.5 174.1,354 177.3,334 176.7,324 176,320.6 174,318.9 171.8,318 173.4,316 179.2,312 184.3,310 208,305.7 214,303.1 218,300.7 221.2,298 223.6,294 224.5,286 223.8,276 225.4,272 228,269.6 232,267.6 236,267.2 240,267.9 245,270 247,272 247.9,276 246.5,280 216,314.4 208.5,326 206.6,330 204.2,338 204,342.8 205.6,348 208,350.8 212,353.3 214.7,354 218,354.1 224,352.6 234,348.3 242,343.2 248,338.3 261.9,324 276,305.5 284,296.7 330,255 354,235.6 357.6,232 364,224 367.2,218 369.7,204 376.9,192 378.1,188 379,182 380.9,164 380.8,158 379.1,152 372.8,144 372.1,142 372.1,140 372.9,138 378.1,132 392.6,124 399.2,118 426,75.4 432,66.6 436,61.9 440,59.4 452,55.8 462,51.4ZM231.7,270 228,272.3 225.9,276 225.9,280 228,292.9 230,292.6 232,291 241.3,282 244,278.6 244.7,276 244,273.6 242.5,272 240,270.7 236,269.5 231.7,270Z" fill="#ff2d00" stroke="#ff2d00" stroke-width="0.6"/>
<path d="M200,50 256,50 254,54.7 250.6,58 246,59.8 242,60.2 234,59.6 220,56.8 203,52 199.1,50 200,50ZM628,51.8 631.3,50 648.6,50 646,54.2 640,58.4 632,61.4 622,63.1 616,64.9 608,68.5 596,75 582,80.7 577.4,82 564.5,84 546,85.3 518,83.3 492,83.2 486,81.5 476.6,74 474,72.9 470,72.1 464,72.5 448,75.2 442,77.4 438,80.1 434,84.3 430.4,90 422.9,108 419,120 417.2,136 416,140.3 414,143.3 412,144.4 410,144.5 408,143.6 403.2,138 400.8,136 395.2,134 386,134 382,135.6 380.4,138 380.6,140 381.9,142 392.3,150 395.3,154 395.8,158 393.5,172 394.1,180 395.5,186 397.2,190 405.1,200 407.4,204 407.7,206 407.1,208 405.6,210 370,235.5 354,249 338,261.3 324,274.7 310,287 282,307.8 276,313.5 261.2,330 252,339.3 246,344.8 236,352 224,357.6 214,360.3 208,359.3 204,357.2 202,355.5 198.6,350 197.8,346 198,342 199.3,336 202.7,326 207.1,318 206,316.8 203.4,318 194,326 190,330 187.1,334 183.4,342 180.3,354 176.5,364 174,376.3 172,381.7 168,387.9 166,389.6 164,390.5 158,391.3 156,393.4 154.8,404 156,412.9 157.6,418 160,422.9 161.8,426 166,431.1 170,434.5 178,437.4 182,437.2 184.4,436 186.3,434 192,425.4 194,423.6 198,421.4 204,420.3 210,420.7 214,422 218,424.5 221.5,428 223.8,432 224.9,436 224.9,440 222.3,450 215.7,460 211.7,464 202,471.2 190,477.3 178,481.2 156,485.2 144,486.2 120,487 120,485.8 144,485 158,483.7 178,479.8 190,475.7 202,469.6 211.9,462 215.4,458 219.5,452 221.4,448 222.9,442 223.3,438 221.7,432 219.1,428 216,425.2 212,423 208,422 204,421.9 200,422.6 196.8,424 194,426 186.6,436 184.3,438 182,438.8 178,438.7 170,435.8 165.3,432 160.2,426 157.8,422 155.8,418 154,412 152.4,404 151.9,396 152,391.6 153,388 154,385.4 156,383.2 158,382.5 164,382.9 166,382.4 168,381 170,378.5 171.8,374 173.5,366 176.8,356 180,340.4 182.3,332 183.9,328 188,323.4 195.5,318 200,313.1 208,310 212,309.8 213,312 212.3,316 205,328 201.7,338 201,344 202.3,350 204,352.7 206,354.5 210,356.5 214,357.2 222,355.7 234,350.7 246,342.4 254,334.9 264.2,324 276,309.7 282,303.6 308,282.4 334.5,258 358,239 371.5,226 380.4,216 385,210 387.1,206 387.9,202 386.5,178 387.3,164 387,158 384.6,152 376,142 375.5,140 375.9,138 378.8,134 381.7,132 398.7,126 402.5,124 406,121.1 409.4,116 427,84 432,77.1 436,72.9 440,70 444,68.1 466,61.4 472,60.3 476,60.2 484,61.8 502,70.9 512,73.9 538,77.1 548,78.9 554,79.2 562,78.7 578,76.4 588,73.2 594.5,70 604,63.4 616,56.2 628,51.8ZM232,269.9 236,269.5 240,270.7 242.5,272 244,273.6 244.7,276 244,278.6 241.3,282 232,291 230,292.6 228,292.9 225.9,280 225.9,276 228,272.3 232,269.9ZM230.9,274 229.4,276 229.1,278 230,281.6 232,282.9 236,281.5 240,278 240.4,276 238,273.5 234,272.8 230.9,274Z" fill="#ff2000" stroke="#ff2000" stroke-width="0.6"/>
<path d="M648,51.5 648.6,50 656.8,50 656.2,52 653.8,56 650.3,60 646,63.4 642,65.8 632,69.5 614,73.1 586,84 578,86.4 562,88.6 548,89.5 518,89.8 500,90.9 494,92.8 490,94.9 480,103.1 478,104 474,104.4 471.6,104 468,102 465,98 461.1,90 458,87.1 454,85.5 450,85.2 446,86 442,88.5 438.1,94 435,102 426.5,120 425.2,126 423.4,144 422,150 418,155.5 406,167.9 404,172 403.9,178 406.3,184 418.5,198 420.9,202 421.3,206 419.5,210 415.7,214 410,218.1 372,240.8 344,262.5 312,291.2 280,313.6 250,343.9 242,350.8 236,354.8 226,359.6 218,362.4 214,363.4 210,363.2 204,360.7 200.8,358 196,352 192,344.4 190,343.6 188,345.1 186,348 178.5,364 177.2,368 175.8,378 172,387.6 166,398.4 160.4,404 159.2,406 158.5,410 160,418 163.9,426 168,431.1 172,434 178,435.7 180,435.7 183.6,434 190.1,424 192.3,422 196,420 202,418.6 208,418.6 212,419.2 216,420.9 220,423.6 222.4,426 225.1,430 226.6,434 227,438 226.5,442 224.9,448 223.2,452 217.7,460 212,465.8 204,471.9 190,479.1 176,483.3 158,486.3 144,487.5 120,488.3 120,487 144,486.2 158,485 180,480.6 192,476.5 202,471.2 211.7,464 215.7,460 222.3,450 224.9,440 224.9,436 223.8,432 221.5,428 218,424.5 214,422 210,420.7 204,420.3 198,421.4 194,423.6 192,425.4 186.3,434 184.4,436 182,437.2 178,437.4 170,434.5 166,431.1 161.8,426 160,422.9 157.6,418 156,412.9 154.8,404 156,393.4 158,391.3 164,390.5 166,389.6 168,387.9 172,381.7 174,376.3 176.5,364 180.3,354 183.4,342 187.1,334 190,330 194,326 203.4,318 206,316.8 207.1,318 202.7,326 199.3,336 198,342 197.8,346 198.6,350 202,355.5 204,357.2 208,359.3 214,360.3 224,357.6 236,352 246,344.8 252,339.3 261.2,330 276,313.5 282,307.8 310,287 324,274.7 338,261.3 354,249 370,235.5 405.6,210 407.1,208 407.7,206 407.4,204 405.1,200 397.2,190 395.5,186 394.1,180 393.5,172 395.8,158 395.3,154 392.3,150 381.9,142 380.6,140 380.4,138 382,135.6 386,134 395.2,134 400.8,136 403.2,138 408,143.6 410,144.5 412,144.4 414,143.3 416,140.3 417.2,136 419,120 422.9,108 430.4,90 434,84.3 438,80.1 442,77.4 448,75.2 464,72.5 470,72.1 474,72.9 476.6,74 486,81.5 492,83.2 518,83.3 546,85.3 564,84.1 577.4,82 582,80.7 596,75 608,68.5 616,64.9 620,63.5 630,61.9 636.2,60 643.9,56 648,51.5ZM232,273.3 234,272.8 238,273.5 240.4,276 240,278 238,280.1 234,282.5 232,282.9 230,281.6 229.1,278 230,275 232,273.3Z" fill="#ff1300" stroke="#ff1300" stroke-width="0.6"/>
<path d="M658,50 663.9,50 662.2,54 658,60.1 654,64.6 648,69.7 644,72.1 638,74.6 616,78.9 586,88.6 578,90.5 562,92.2 534,93.7 518,95.7 504,96.4 500,97.1 494.6,100 486,108.5 482,111.4 476,114.6 470,117 464,117.1 454,112.7 450,111.7 444,112.1 438,114.8 434,118.6 430.9,124 429,132 428,146 427,152 424.6,158 417.3,170 415.8,176 416.3,180 418.1,184 420.8,188 429.1,198 431.3,202 431.8,206 431.3,208 428.6,212 423.7,216 406,228.4 378,243.7 364,252.8 344.7,268 328,283.5 314,295.5 298,306.7 284,315.5 278,320 270,327.2 250,347.5 242,354.5 238,357.1 224,363.7 216,366.3 212,366.8 208,366 204,364.1 202,362.6 196,356.1 192,352.9 190,352.5 188,353 184,357.4 180.5,364 179,368 177.3,380 173.6,390 170.9,400 170.1,406 170.5,410 172.4,414 180.4,422 182,425.6 182.9,424 190,419 196,417 202,416.3 210,416.5 214,417.6 220,420.7 223.7,424 226.6,428 228.4,432 229.2,436 229.1,440 227.2,448 225.6,452 218.6,462 214,466.6 204,474.2 192,480.5 182,483.7 174,485.6 156,488.2 144,489 126,489.1 120,489.7 120,488.3 124,487.9 146,487.4 162,485.7 178,482.8 190,479.1 204,471.9 212,465.8 217.7,460 223.2,452 224.9,448 226.5,442 227,438 226.6,434 225.1,430 222.4,426 220,423.6 216,420.9 212,419.2 208,418.6 202,418.6 196,420 192.3,422 190.1,424 183.6,434 180,435.7 178,435.7 172,434 168,431.1 163.9,426 160,418 158.5,410 159.2,406 160.4,404 166,398.4 172,387.6 175.8,378 177.2,368 178.5,364 186,348 188,345.1 190,343.6 192,344.4 196,352 200.8,358 204,360.7 210,363.2 214,363.4 218,362.4 226,359.6 236,354.8 242,350.8 250,343.9 280,313.6 312,291.2 344,262.5 372,240.8 410,218.1 415.7,214 419.5,210 421.3,206 420.9,202 418.5,198 406.3,184 403.9,178 404,172 406,167.9 418,155.5 422,150 423.4,144 425.2,126 426.5,120 435,102 438.1,94 442,88.5 446,86 450,85.2 454,85.5 458,87.1 461.1,90 465,98 468,102 471.6,104 474,104.4 478,104 480,103.1 490,94.9 494,92.8 500,90.9 518,89.8 548,89.5 562,88.6 578,86.4 586,84 614,73.1 632,69.5 640,66.7 646,63.4 650,60.3 654,55.7 656.8,50 658,50ZM169.8,428 172,430.3 176,430.6 177.1,432 178,432.1 180,431.5 181.2,430 181.7,428 180,427.7 178,429.3 176,429.9 174,429.6 172,427.8 170,427 169.8,428Z" fill="#ff0600" stroke="#ff0600" stroke-width="0.6"/>
<path d="M664,50 671.6,50 668.3,56 662.5,64 656,71.3 650,76.6 644,80.1 638,81.8 618,84.7 580,94.4 572,95.3 538,97.1 530,98.6 518,102.8 504,104.2 500.2,106 498,108 485.1,122 478,132.8 474,135.8 470,136.4 464,134.8 458,130.8 450.4,124 446.3,122 442,121.8 438,123.6 435.8,126 433.9,130 432.8,136 432.6,150 431.7,158 430.4,162 426.5,170 425.2,174 425.7,180 427.7,184 430,186.7 434,190.1 438,192.6 444,195.2 450,196.5 464,196.5 474,197.7 482,199.4 488.9,202 495.9,206 500.1,210 501.9,214 501.7,216 500.5,218 496,220.3 488,220.6 480,219.2 464,214.3 454,213.6 446,215.5 426,223.9 422,226 408,235.4 374,252.5 366,257.2 350.1,270 318,298.8 298,313.6 281.6,324 274,329.6 250,353.1 246,356.6 240,360.7 232,364.8 224,367.9 218,369.6 212,370.3 206,369 202,366.9 194,357.9 192,356.9 190,356.6 188,357.3 184,361.6 181,368 179.5,380 176,392 176.1,396 175.3,402 176,405.3 178,407.8 180,408.9 186,410.1 192,412.2 208,413.2 214,414.4 220,417.5 224,420.4 227.1,424 229.5,428 231.5,434 231.3,444 227.8,454 218.3,466 208,474.7 202,478.4 190,484.1 176,487.8 156,490.4 144,490.9 126,490.6 120,491.4 120,489.7 126,489.1 144,489 156,488.2 176,485.2 184,483.1 192,480.5 204,474.2 214,466.6 218.6,462 225.6,452 227.2,448 229.1,440 229.2,436 228.4,432 226.6,428 223.7,424 220,420.7 214,417.6 210,416.5 202,416.3 196,417 190,419 182.9,424 182,425.6 180.4,422 172.4,414 170.5,410 170.1,406 170.9,400 173.6,390 177.3,380 179,368 180.5,364 184,357.4 188,353 190,352.5 192,352.9 196,356.1 202,362.6 204,364.1 208,366 212,366.8 216,366.3 224,363.7 238,357.1 242,354.5 250,347.5 270,327.2 278,320 284,315.5 298,306.7 314,295.5 328,283.5 344.7,268 364,252.8 378,243.7 406,228.4 423.7,216 428.6,212 431.3,208 431.8,206 431.3,202 429.1,198 420.8,188 418.1,184 416.3,180 415.8,176 417.3,170 424.6,158 427,152 428,146 429,132 430.9,124 434,118.6 438,114.8 444,112.1 450,111.7 454,112.7 464,117.1 470,117 476,114.6 482,111.4 486,108.5 494.6,100 500,97.1 504,96.4 518,95.7 534,93.7 562,92.2 578,90.5 586,88.6 616,78.9 638,74.6 646,71 652.5,66 659.5,58 664,50ZM170,427 172,427.8 174,429.6 176,429.9 178,429.3 180,427.7 181.7,428 181.2,430 180,431.5 178,432.1 177.1,432 176,430.6 171.5,430 169.8,428 170,427Z" fill="#f90000" stroke="#f90000" stroke-width="0.6"/>
<path d="M672,50 680,50 680,54.7 678,56.1 676,58.5 656.8,84 652.1,88 648,90.2 642,91.6 632,90.7 624,91.2 598,96.8 580,99.6 550,99.8 542,100.6 535.6,102 530,104.6 522,111.4 512.4,116 508,119 500,127.5 493,140 490.1,144 486,147.5 482,149.1 478,149.6 472,149.2 464,147.7 458,145.8 452,142.8 444,135.1 441.9,134 440,135.7 439.5,140 439.9,150 441.6,162 440.7,166 436.9,174 436.7,176 437.5,178 440,179.8 442,180.4 452,182 466,183.4 480,186.5 496,191.7 502,194.4 514.7,204 520.4,210 523.4,214 524.5,218 524.3,220 522.6,224 521,226 518,228.4 514,230.6 506,232.8 498,234.2 494,234.4 488,233.6 478,231.1 468,227.9 460,226.6 450.8,228 438.9,232 420,240.6 396,249.9 369.4,262 354.6,274 326,300.8 296,325.8 280,338.4 266.7,350 252,360.7 238,368.7 232,371.2 224,373.4 216,374.5 210,374.6 204,372.9 198,370 195.6,368 192,361.9 190,361.4 188,362.1 186,364 184,367 183.1,370 182.4,378 179.6,388 180.1,392 182.8,396 184.2,400 186,401.8 190,403.1 202,404.7 212,408.4 224,415.5 228,419.4 233.1,428 234.4,434 234.3,446 232.5,452 230.7,456 220.7,468 208,478.6 196,485.4 188,488.9 178,491.5 170,492.8 152,493.8 126,492.6 120,493.6 120,491.4 124,490.8 156,490.4 178,487.4 192,483.4 204,477.4 210,473.1 220,464.2 227.8,454 231.3,444 231.5,434 229.5,428 227.1,424 224,420.4 220,417.5 214,414.4 208,413.2 192,412.2 186,410.1 180,408.9 178,407.8 176,405.3 175.3,402 176.1,396 176,392 179.5,380 181,368 184,361.6 188,357.3 190,356.6 192,356.9 194,357.9 202,366.9 206,369 212,370.3 218,369.6 224,367.9 232,364.8 240,360.7 246,356.6 250,353.1 274,329.6 281.6,324 298,313.6 318,298.8 350.1,270 366,257.2 374,252.5 408,235.4 422,226 426,223.9 446,215.5 454,213.6 464,214.3 480,219.2 488,220.6 496,220.3 500.5,218 501.7,216 501.9,214 500.1,210 495.9,206 488.9,202 482,199.4 474,197.7 464,196.5 450,196.5 444,195.2 438,192.6 434,190.1 430,186.7 427.7,184 425.7,180 425.2,174 426.5,170 430.4,162 431.7,158 432.6,150 432.8,136 433.9,130 435.8,126 438,123.6 442,121.8 446.3,122 450.4,124 458,130.8 464,134.8 470,136.4 474,135.8 476.9,134 478.7,132 485.1,122 498,108 502,104.9 506,103.9 518,102.8 530,98.6 538,97.1 572,95.3 580,94.4 620,84.2 642,80.9 646,79.2 650,76.6 656,71.3 664.1,62 672,50Z" fill="#ec0000" stroke="#ec0000" stroke-width="0.6"/>
<path d="M680,54.7 680,116.5 673.4,130 670,133.8 668,135.1 664,136.5 658,135.9 652,132.7 638,122 634,120.2 630,119.8 628,120.6 626,122.6 618.8,134 612,142 604,148.2 600,150 598,150.2 596,148.8 594.5,144 592,130.5 590.5,116 589.9,114 588,111.4 586.2,110 582,108.4 569.2,106 556,104.9 546,105.5 538.4,108 534,111.7 511.8,142 506.5,148 491.9,162 488.9,166 488.5,168 489.3,170 491.6,172 495.2,174 502,176.7 516,180.3 522,181 528,180.9 536,179.4 544.2,176 550.4,172 562,162.7 566,160.6 574,158.9 592,156.8 594,158.2 594.8,160 598.8,174 601.1,180 603.2,184 606.5,188 612.7,192 630,198 638.7,202 646,207.4 650,212.5 651.7,216 652.8,220 653,224 652.4,228 650.4,234 648.1,238 642,245 638,248 632,251 628,252.2 622,252.9 614,252.3 594,248.7 586,248.5 564,249.4 546,246.2 540,245.8 532,246.9 510,252.5 498,253.2 488,252.1 468,247.4 460,247 454,248 438,253.5 412,259.9 396,264.8 382,268 374,271 366.9,276 358.9,284 353.2,292 351.1,298 351.4,302 358,314.5 362,325.6 364.1,334 364.3,340 363.6,344 362,348.3 360,351.4 358,353.1 356,353.6 354,353.3 352,352.1 348.1,348 343.8,340 340,327.2 338,322.7 336,320.3 334,319.3 330,319.1 326,320.2 320,323.2 290,341.6 284.2,346 270.8,358 252.1,370 240,379.4 236,381.7 230,382.6 210,381.1 204,379.6 192,375.3 190,375.1 188,376.3 183.8,386 184,389.3 186,392 190,394.6 192,395.2 204,396.6 210,399 224,406.8 228,409.9 232,414.7 236.1,424 237.6,430 237.8,446 235.9,454 232.5,460 225.6,468 208,482.8 194,491.2 180,498.6 176,500 162,499.6 150.8,500 146,500.5 144,501.5 143.5,502 144.8,510 143.3,514 140,517.2 130.9,522 128.7,524 125.1,534 122,537.7 120,538.7 120,520.7 124,520.8 126,520 127.3,518 131.5,506 136,500 134.9,498 130,496 124,496 120,497.5 120,493.6 126,492.6 152,493.8 170,492.8 178,491.5 190,488.2 206,480 218.5,470 222.6,466 229.3,458 232.5,452 234.5,444 234.2,432 232.1,426 226.8,418 224,415.5 216,410.4 210,407.6 202,404.7 190,403.1 186,401.8 184.2,400 182.8,396 180.1,392 179.6,388 182.4,378 183.1,370 184,367 186,364 188,362.1 190,361.4 192,361.9 195.6,368 198,370 204,372.9 210,374.6 214,374.7 222,373.8 236,369.7 250,362 266.7,350 280,338.4 296,325.8 326,300.8 359.2,270 368,263 372,260.5 384,255.6 396,249.9 421.3,240 438.9,232 452,227.7 458,226.6 464,227 484,232.7 490,234 496,234.3 504,233.2 514,230.6 518.7,228 522.6,224 523.7,222 524.5,218 523.4,214 522.1,212 514.7,204 501.3,194 496,191.7 480,186.5 466,183.4 452,182 442,180.4 440,179.8 437.5,178 436.7,176 436.9,174 440.7,166 441.6,162 439.9,150 439.5,140 440,135.7 441.9,134 444,135.1 452,142.8 460,146.6 466,148.2 474,149.4 480,149.4 484,148.5 488,146.1 490.1,144 493,140 499.6,128 506.9,120 512,116.2 522,111.4 528.2,106 532,103.4 538,101.4 548,100 576,99.9 582,99.3 598,96.8 626,91 632,90.7 642,91.6 646,91 652,88.1 656.8,84 676,58.5 678,56.1 680,54.7ZM534,344 546,343.2 554,344.7 558,346.5 562,349.3 564.5,352 567.2,356 568.9,360 570.4,366 571.1,372 571,380 569.9,388 568.2,394 566,397.9 564,399.7 562,400.4 560,400.3 558,399.3 549.1,390 546,387.7 542,385.8 534,384.2 528,384.9 522,387.7 514.9,394 510.5,400 504.4,412 501.6,416 498,419 495.4,420 492,420.4 484,419 462,411.4 453.3,406 448.8,402 445.7,398 444,394 443.6,388 445,382 447.7,376 452,369.3 458,362 464,356.3 470,351.9 480,347.1 490,344.9 498,344.6 518,345.5 534,344Z" fill="#df0000" stroke="#df0000" stroke-width="0.6"/>
<path d="M544,105.9 554,104.8 568,105.8 582,108.4 586.2,110 588,111.4 589.9,114 590.5,116 592,130.5 594.5,144 596,148.8 598,150.2 600,150 604,148.2 612,142 618.8,134 626,122.6 628,120.6 629.5,120 632,119.7 634,120.2 638,122 651,132 656,135.1 660,136.4 664,136.5 668,135.1 672,131.8 674.6,128 680,116.5 680,325.2 667.2,334 654.5,340 642,344.2 610,352.5 602,356.5 596,362 592,367.5 588,375 576,402.4 572,408.2 568,411.3 564,412.3 562,412.3 558,411 554,408.2 546,399.5 542,396.3 536,394.3 530,394.8 524.3,398 520.5,402 516.9,408 511.3,420 508,424.6 506,426.5 502,428.9 496,430.3 488,429.8 442,420.4 434,420.2 420,421.9 416,421.6 412,420.4 407.4,418 402.9,414 398.6,408 392,395.8 388,391.8 382,390.1 360,389.4 352,387.8 348.6,386 346,383.8 343.1,380 336,368.3 332,363.2 324,354.9 318,350.1 313.6,348 308,347 300,347.7 294,349.5 289.9,352 277.2,364 260,374.3 255.9,378 253.2,382 251.7,386 243.9,418 242.8,430 241.4,438 241.8,448 241.1,452 238.5,458 234.2,464 226,472.9 216,480 208,487.7 190,499.6 182,505.8 178,507.6 166,510.1 160,513.3 143.3,530 134,543.4 130,548.1 124,553.9 120,556.6 120,538.7 122,537.7 125.1,534 128.7,524 130.9,522 140,517.2 143.3,514 144.8,510 143.5,502 144,501.5 146,500.5 150.8,500 162,499.6 176,500 180,498.6 194,491.2 208,482.8 225.6,468 232.5,460 235.9,454 237.8,446 237.6,430 236.1,424 232,414.7 228,409.9 224,406.8 210,399 204,396.6 192,395.2 190,394.6 186,392 184,389.3 183.8,386 188,376.3 190,375.1 210,381.1 230,382.6 236,381.7 240,379.4 252.1,370 270.8,358 284.2,346 290,341.6 320,323.2 326,320.2 330,319.1 334,319.3 336,320.3 338,322.7 340,327.2 343.8,340 348.1,348 352,352.1 354,353.3 356,353.6 358,353.1 360,351.4 362,348.3 363.6,344 364.3,340 364.1,334 362,325.6 358,314.5 351.4,302 351,300 351.5,296 353.2,292 355.7,288 364,278.6 372,272.1 380,268.6 398,264.2 416,258.8 438,253.5 454,248 460,247 468,247.4 488,252.1 498,253.2 510,252.5 532,246.9 540,245.8 546,246.2 564,249.4 586,248.5 594,248.7 614,252.3 622,252.9 628,252.2 634.5,250 640,246.6 645,242 650.4,234 652.8,226 653,222 652.3,218 649.7,212 644.5,206 638,201.6 630,198 612.7,192 606.5,188 603.2,184 601.1,180 598.8,174 594.8,160 594,158.2 592,156.8 574,158.9 566,160.6 562,162.7 550.4,172 544.2,176 538,178.7 530,180.7 520,180.8 508,178.5 495.2,174 489.3,170 488.5,168 488.9,166 490.2,164 510.2,144 533.8,112 538.4,108 544,105.9ZM551.9,116 548,117.9 546.3,120 545.3,124 545.5,126 546.5,128 549.3,130 552,130.5 556,130.1 560.5,128 562.6,126 563.8,124 564,122 563.4,120 561.7,118 558,116.2 551.9,116ZM400.6,324 396,327.6 392.8,332 390.6,336 387.9,344 387,352 388.2,362 390,367.8 392,372.1 394,374.8 396,376.3 400,377 404,376 410,372.9 414,369.7 419.1,364 422,359.6 424.7,354 426.4,348 427,342 426.6,338 425.2,334 422.4,330 418,326.5 412,323.4 408,322.5 404,322.7 400.6,324ZM533.8,344 518,345.5 498,344.6 490,344.9 480,347.1 470,351.9 464,356.3 458,362 452,369.3 447.7,376 445,382 443.6,388 444,394 445.7,398 448.8,402 453.3,406 462,411.4 484,419 492,420.4 495.4,420 498,419 501.6,416 504.4,412 510.5,400 514.9,394 522,387.7 528,384.9 534,384.2 542,385.8 546,387.7 549.1,390 558,399.3 560,400.3 562,400.4 564,399.7 566,397.9 568.2,394 569.9,388 571,380 571.1,372 570.4,366 568.9,360 567.2,356 564.5,352 562,349.3 558,346.5 554,344.7 546,343.2 533.8,344ZM124,496 130.1,496 134.9,498 136,500 131.5,506 127.3,518 126,520 124,520.8 120,520.7 120,497.5 124,496Z" fill="#d20000" stroke="#d20000" stroke-width="0.6"/>
<path d="M552,116 558,116.2 561.7,118 563.4,120 564,122 563.8,124 562.6,126 560.5,128 556,130.1 552,130.5 549.3,130 546.5,128 545.5,126 545.3,124 546.3,120 548,117.9 552,116ZM402,323.3 406,322.4 410,322.8 414,324.3 420.1,328 422.4,330 425.2,334 426.6,338 426.9,344 426,350 423.9,356 420.5,362 417.5,366 412,371.4 408,374.1 402,376.7 398,376.9 396,376.3 394,374.8 392,372.1 390,367.8 387.4,358 387.1,350 388.4,342 392,333.2 396,327.6 398,325.7 402,323.3ZM680,325.2 680,409 676,406.3 672.3,402 660.9,384 656.4,380 652.4,378 648,377 644,377.1 640,378.1 630,381.9 626,382.6 614,380.1 608,380.3 604,382.1 598,387.5 588.4,400 583.3,412 578,430.1 576,433.1 574,434.1 570,434.1 566,432.8 558,428 554,424.6 550,420 544.2,410 541.2,406 538,403.7 534,403.3 530,405.3 526.6,410 520,431.6 518,436.3 514.9,440 510,442.5 504,443.1 498,442.6 492,441.3 480,437.5 464,434.2 446,432.6 442,433 436,434.5 422,441.5 414,443.7 392,447.8 384,448.4 378,448 374,446.8 370,444 367.6,440 363.4,426 360,419.1 355.4,414 346,407.6 342,403.8 338,397.7 331.7,384 328,379.2 324,375.9 320,373.7 312,370.8 306,369.5 302,369.4 296,371.3 284,377.7 280,378.8 268,380.5 264,383.1 262,385.9 261.2,388 258.7,410 255.9,424 251,438 247.3,452 244.4,458 241.7,462 229.6,476 219.3,484 210.7,492 184,510.7 167.4,520 156.7,528 152.8,532 144,542.9 130.3,564 128.2,568 120,568 120,556.6 124,553.9 130,548.1 134,543.4 143.3,530 160,513.3 166,510.1 178,507.6 182,505.8 190,499.6 208,487.7 216,480 226,472.9 235.8,462 239.5,456 241.5,450 241.4,438 242.8,430 243.9,418 251.7,386 253.2,382 255.9,378 260,374.3 277.2,364 289.9,352 294,349.5 300,347.7 308,347 313.6,348 318,350.1 324,354.9 332,363.2 336,368.3 343.1,380 346,383.8 348.6,386 352,387.8 360,389.4 382,390.1 388,391.8 392,395.8 398.6,408 402.9,414 407.4,418 412,420.4 416,421.6 420,421.9 434,420.2 442,420.4 488,429.8 496,430.3 502,428.9 506,426.5 508,424.6 511.3,420 516.9,408 520.5,402 524.3,398 530,394.8 536,394.3 542,396.3 546,399.5 554,408.2 558,411 562,412.3 564,412.3 568,411.3 572,408.2 576,402.4 588,375 592,367.5 596,362 602,356.5 610,352.5 642,344.2 654.5,340 667.2,334 680,325.2ZM614,472.9 616,472.2 618,472.3 622,473.5 626,475.6 632,480.7 634,481.7 644,484 652,486.8 662,487.4 666,488.4 669.3,490 671.3,492 672,494 671.4,496 668,498.5 662,499.3 656,498.3 648,495.3 640,493.5 636.8,492 630,487.5 622,485.8 618.6,484 616.4,482 613.8,478 613.1,474 614,472.9ZM308,480 326,479 330,479.2 332.5,480 333.9,482 333.6,484 332.4,486 327.6,490 320.4,494 316,495 305.8,496 288,496.8 278,496.1 275.7,494 276.1,492 279.1,488 284,484.1 288,482.3 296,480.2 308,480ZM600,513.2 601.4,514 600,514.5 599.1,514 600,513.2ZM638,519.2 642,519.5 643,520 644.1,522 642,523.7 640,524 638,523.3 636.4,522 636.4,520 638,519.2Z" fill="#c60000" stroke="#c60000" stroke-width="0.6"/>
<path d="M300,369.8 306,369.5 314,371.4 322,374.7 328,379.2 331.7,384 338,397.7 342,403.8 346,407.6 356,414.5 360.6,420 363.4,426 367.6,440 370,444 374,446.8 378,448 382,448.4 394,447.6 416,443.3 422,441.5 436,434.5 442,433 446,432.6 464,434.2 480,437.5 492,441.3 498,442.6 504,443.1 510,442.5 514.9,440 518,436.3 520,431.6 526.6,410 530,405.3 534,403.3 538,403.7 541.2,406 544.2,410 550,420 554,424.6 558,428 566,432.8 570,434.1 574,434.1 576,433.1 578,430.1 582.6,414 588,400.6 596,389.7 604,382.1 608,380.3 612,379.9 624,382.4 628,382.4 640,378.1 646,377 650,377.3 654,378.6 658,381.2 660.9,384 672.3,402 676,406.3 680,409 680,545.7 674,544.7 638,536.1 618,536.9 610,536.2 594,531.9 574,529.6 556,526.1 546,523.5 536.6,520 528.7,516 522.5,512 517.3,508 511.4,502 508.7,498 506.8,494 504,481.3 501.9,476 497.6,470 491.8,464 482.3,456 476,452.2 470,449.9 460,448 454,448 450,448.7 442.2,452 421.4,466 408,478 400.1,484 388,490.8 376,495.6 370,497 364,497.7 346,497.4 336,498.1 318,501.7 276,508.1 266,508.3 258,506.6 254,504.7 250.5,502 248.9,500 247.3,496 247.3,492 248.9,488 253.7,482 262,475.7 272,470.9 288,466.2 304,463.5 310,461.3 314,458.3 316,456 318.4,452 319.9,448 321.3,440 320.4,434 317.7,428 314,423.9 310,421.3 304,419.5 284,418 278,419.4 274,422.6 270,429.5 260.8,450 254.9,460 250.3,466 242,475.1 235.4,484 230,489.8 224.7,494 211.2,502 186.7,518 181.6,522 170.7,532 163.6,540 161.3,544 157.2,554 150,563.1 147.3,568 128.2,568 130.3,564 144,542.9 156,528.7 167.4,520 184,510.7 210.7,492 219.3,484 226,479.2 230,475.6 243.2,460 247.3,452 251,438 255.9,424 258.7,410 260.8,390 261.9,386 264,383.1 266,381.5 270,380 278,379.1 284,377.7 296,371.3 300,369.8ZM610,406 606,408.9 604,412.2 603.5,418 605.1,424 609.1,432 614.3,440 624,452.7 630.5,460 636,464.5 642,467.8 648,470 654,471.3 660,471.3 664,470.4 668,468.6 672,465.5 674.8,462 677.3,456 677.6,452 676.4,446 674.7,442 671,436 666,430 658,421.9 648,413.2 640,409 634,407.4 620,404.9 614,404.9 610,406ZM613.1,474 613.1,476 614.9,480 618.6,484 622,485.8 630,487.5 636.8,492 640,493.5 648,495.3 656,498.3 662,499.3 668,498.5 671.4,496 672,494 671.3,492 669.3,490 666,488.4 662,487.4 652,486.8 644,484 634,481.7 632,480.7 626,475.6 620,472.8 616,472.2 614,472.9 613.1,474ZM307.9,480 294,480.4 286,483.2 282,485.4 279.1,488 276.1,492 275.7,494 278,496.1 288,496.8 305.8,496 316,495 320.4,494 327.6,490 332.4,486 333.6,484 333.9,482 332.5,480 330,479.2 326,479 307.9,480ZM599.1,514 600,514.5 601.4,514 600,513.2 599.1,514ZM636.4,520 636.4,522 639.9,524 642,523.7 644.1,522 643,520 642,519.5 640,519 638,519.2 636.4,520Z" fill="#b90000" stroke="#b90000" stroke-width="0.6"/>
<path d="M610,406 614,404.9 620,404.9 634,407.4 640,409 648,413.2 658,421.9 666,430 671,436 674.7,442 676.4,446 677.6,452 677.3,456 674.8,462 672,465.5 668,468.6 664,470.4 660,471.3 654,471.3 648,470 642,467.8 636,464.5 630.5,460 624,452.7 614.3,440 609.1,432 605.1,424 603.5,418 604,412.2 606,408.9 610,406ZM284,418 304,419.5 310,421.3 314,423.9 317.7,428 320.4,434 321.3,440 319.9,448 318.4,452 316,456 314,458.3 310,461.3 304,463.5 288,466.2 272,470.9 262,475.7 253.7,482 248.9,488 247.3,492 247.3,496 248.9,500 250.5,502 254,504.7 258,506.6 266,508.3 276,508.1 318,501.7 336,498.1 346,497.4 364,497.7 374.5,496 386,491.8 400,484.1 408,478 421.4,466 442.2,452 446.2,450 452,448.3 456,447.9 462,448.2 470.4,450 478,453.2 484.9,458 493.9,466 499.2,472 502.9,478 506.8,494 510,500 513.2,504 519.8,510 532,517.8 540,521.4 547.7,524 568,528.6 594,531.9 608,535.7 614,536.7 622,536.8 634,535.9 640,536.3 672,544.3 680,545.7 680,564 660,557.2 648,554.9 636,554.2 608,555.5 594,553.8 542,539.1 516,529.8 504,527.1 480,525.3 442,520.7 420,515.5 410,514.2 396,514.6 372,518.1 364,517.9 358,515.7 349.2,510 344,507.4 338,505.6 330,504.9 314,507.3 278,514.6 244,518.3 230,521.6 224.4,524 220,526.7 207.4,538 192,548.9 185.7,556 180.4,564 178.4,568 147.3,568 150,563.1 157.2,554 161.3,544 163.6,540 170.7,532 181.6,522 186.7,518 211.2,502 224.7,494 229.8,490 233.7,486 242.9,474 251.9,464 256,458.3 260.8,450 270,429.5 274,422.6 278,419.4 284,418Z" fill="#ac0000" stroke="#ac0000" stroke-width="0.6"/>
<path d="M322,505.9 332,504.9 340,506.1 348,509.3 360,516.7 366,518.2 374,517.9 398,514.4 410,514.2 420,515.5 442,520.7 480,525.3 498,526.4 506,527.4 518,530.4 544,539.7 586,551.8 596,554.2 610,555.5 640,554.3 656,556.1 680,564 680,568 574.5,568 571.2,566 522,546.8 514,544.5 508,544.1 496,545.9 490,545.8 466,541 406,533 394,532.8 370,534.7 360,534.5 354,532.9 349.4,530 346,526.1 340.8,518 337,514 332,511.3 326,510.5 316,512 296,516.7 267,524 254,528.5 246,533.6 218,556 212.2,562 209.2,566 208.4,568 178.4,568 184,558.5 190.8,550 195.7,546 207.4,538 220,526.7 226,523.2 234,520.4 242,518.7 276,514.9 322,505.9Z" fill="#9f0000" stroke="#9f0000" stroke-width="0.6"/>
<path d="M318,511.6 328,510.5 334,512.1 339.2,516 346,526.1 349.4,530 354,532.9 358,534.1 368,534.8 392,532.8 406,533 466,541 490,545.8 496,545.9 508,544.1 514,544.5 522,546.8 571.2,566 574.5,568 534.3,568 532.6,566 527,562 522,559.3 518,558.3 516,558.5 512.8,560 509.4,564 507.1,568 472.9,568 471.4,566 468,563.6 458.8,560 418.5,550 410,549.1 388,551 372,553.7 339.7,564 334.3,566 331.2,568 246.3,568 256.8,558 260.8,552 262.4,548 262.5,544 260,542.3 258,542.2 254,542.9 248,545.3 241.6,550 238.7,554 236.1,560 235.7,564 236.8,568 208.4,568 209.2,566 212.2,562 218,556 246,533.6 254,528.5 267,524 318,511.6ZM304.7,522 300,523.6 290,525.8 286,527.4 281.7,530 279.8,532 278.9,534 280.2,536 282,536.5 286,536.9 292,536.5 296,535.4 310,529.1 314.1,526 315.2,524 315.2,522 312,520.6 304.7,522Z" fill="#930000" stroke="#930000" stroke-width="0.6"/>
<path d="M306,521.6 312,520.6 315.2,522 315.2,524 314.1,526 310,529.1 296,535.4 292,536.5 286,536.9 282,536.5 280.2,536 278.9,534 279.8,532 281.7,530 286,527.4 290,525.8 300,523.6 306,521.6ZM252,543.6 258,542.2 260,542.3 262,543.4 262.7,546 262.4,548 259.7,554 254.9,560 246.3,568 236.8,568 235.7,564 235.7,562 236.8,558 238.7,554 241.6,550 244,547.8 252,543.6ZM400,549.9 410,549.1 416,549.5 451.4,558 466,562.6 471.4,566 472.9,568 331.2,568 334.3,566 339.7,564 370,554.2 384,551.5 400,549.9ZM514,559.2 518,558.3 522,559.3 530,564 534.3,568 507.1,568 510.9,562 514,559.2Z" fill="#860000" stroke="#860000" stroke-width="0.6"/>
</g>
<path d="M294.0,135.8 290.4,138.0 288.6,140.0 286.0,144.0 288.0,144.6 293.4,142.0 296.0,140.0 296.5,138.0 296.0,136.2 294.0,135.8M298.0,127.7 291.5,130.0 279.4,138.0 269.6,146.0 262.4,154.0 259.9,158.0 258.2,162.0 257.1,166.0 256.7,170.0 257.1,174.0 258.0,177.2 260.0,180.5 262.0,182.0 264.0,182.3 266.0,181.6 276.2,172.0 288.0,163.8 289.1,162.0 290.3,156.0 291.9,152.0 294.0,149.3 300.8,144.0 302.4,142.0 302.8,140.0 302.5,130.0 300.6,128.0 298.0,127.7M294.0,125.4 288.1,128.0 277.5,134.0 262.7,144.0 254.2,152.0 251.1,156.0 247.7,162.0 246.0,166.8 245.1,172.0 245.4,178.0 246.8,184.0 249.5,190.0 253.7,196.0 258.0,200.2 262.0,202.5 266.0,203.0 268.0,202.5 272.1,200.0 274.4,196.0 277.3,184.0 280.0,178.0 284.8,172.0 293.1,166.0 293.8,164.0 293.7,158.0 294.8,154.0 298.0,150.1 303.5,146.0 305.1,144.0 305.9,142.0 306.0,140.0 305.2,136.0 305.8,130.0 305.4,128.0 304.0,126.0 302.0,124.9 300.0,124.4 298.0,124.4 294.0,125.4M298.0,121.9 294.0,122.7 284.0,126.9 266.0,136.1 259.5,140.0 252.0,145.4 246.0,151.1 242.0,156.0 238.7,162.0 236.7,168.0 236.1,176.0 237.0,182.0 240.0,189.7 246.0,198.8 252.0,205.1 256.0,208.3 259.0,210.0 262.0,211.0 266.0,211.1 270.0,210.0 276.7,206.0 280.4,202.0 281.6,198.0 282.8,186.0 284.6,180.0 288.5,174.0 294.0,169.5 296.0,167.3 296.6,164.0 296.4,158.0 298.0,153.9 300.0,151.8 305.3,148.0 307.8,144.0 308.3,140.0 307.6,136.0 308.1,130.0 307.9,128.0 306.0,124.8 304.0,123.1 302.0,122.2 298.0,121.9M296.0,119.8 289.1,122.0 269.8,130.0 257.2,136.0 250.3,140.0 244.6,144.0 237.9,150.0 233.1,156.0 229.9,162.0 228.0,168.0 227.5,176.0 229.0,184.0 231.6,190.0 236.9,198.0 242.3,204.0 251.6,212.0 258.0,215.6 262.0,216.5 268.0,215.8 274.0,212.9 284.3,206.0 285.7,204.0 286.3,202.0 287.0,190.0 288.0,184.0 290.6,178.0 296.0,171.5 298.2,168.0 298.7,166.0 298.5,160.0 299.5,156.0 302.0,153.2 307.4,150.0 308.7,148.0 310.0,144.0 310.4,140.0 309.9,136.0 310.3,130.0 309.2,126.0 306.1,122.0 304.0,120.6 300.0,119.5 296.0,119.8M296.0,117.5 260.5,130.0 251.3,134.0 243.7,138.0 234.9,144.0 228.5,150.0 223.9,156.0 220.8,162.0 218.6,170.0 218.6,178.0 220.7,186.0 223.7,192.0 229.7,200.0 238.1,208.0 249.1,216.0 256.0,219.6 262.0,220.6 266.0,220.2 270.0,218.8 286.0,209.4 288.0,208.0 289.5,206.0 290.4,202.0 291.9,186.0 293.2,182.0 298.0,173.3 300.3,168.0 301.2,158.0 302.4,156.0 304.0,154.7 308.0,152.8 310.0,151.0 311.1,148.0 312.2,142.0 312.4,130.0 311.5,126.0 310.0,123.3 307.1,120.0 304.0,118.0 300.0,117.1 296.0,117.5M294.0,115.8 254.6,128.0 244.3,132.0 236.2,136.0 226.9,142.0 220.1,148.0 215.1,154.0 210.7,162.0 208.5,170.0 208.4,178.0 210.4,186.0 214.6,194.0 221.3,202.0 230.0,209.5 242.0,217.3 251.3,222.0 256.0,223.5 260.0,223.9 266.0,223.1 270.0,221.9 274.0,220.0 288.0,211.3 291.9,208.0 293.0,206.0 296.1,186.0 302.4,168.0 303.4,160.0 304.2,158.0 310.0,154.0 311.6,152.0 312.5,150.0 313.9,142.0 314.4,132.0 314.2,128.0 313.0,124.0 310.4,120.0 308.0,117.6 304.0,115.2 302.0,114.6 298.0,114.7 294.0,115.8M300.0,111.5 286.0,116.3 258.0,123.0 246.0,126.3 235.8,130.0 223.7,136.0 216.0,141.2 212.0,144.5 208.0,148.4 203.4,154.0 200.9,158.0 197.4,166.0 196.4,170.0 195.8,176.0 196.3,182.0 198.1,188.0 200.0,192.0 204.1,198.0 208.0,202.3 214.0,207.6 223.1,214.0 228.0,216.9 238.3,222.0 246.0,225.2 254.0,226.8 258.0,226.8 266.0,225.5 271.0,224.0 276.0,221.7 290.0,212.7 295.2,208.0 296.3,206.0 300.5,182.0 302.5,174.0 304.7,168.0 306.0,161.5 306.5,160.0 308.2,158.0 312.3,154.0 314.1,150.0 315.5,142.0 316.3,132.0 316.0,126.0 314.8,122.0 312.0,117.7 308.0,114.0 304.0,111.9 300.0,111.5M300.0,107.5 292.0,111.9 286.0,114.0 248.0,121.1 230.4,126.0 222.0,129.3 214.0,133.3 206.3,138.0 200.9,142.0 194.2,148.0 187.4,156.0 182.5,164.0 179.3,172.0 177.9,180.0 178.4,188.0 180.5,194.0 184.3,200.0 190.3,206.0 201.3,214.0 223.8,228.0 230.0,233.0 232.5,234.0 236.0,234.4 242.0,234.2 248.0,233.2 256.5,230.0 268.0,227.3 274.0,225.1 283.1,220.0 296.7,210.0 298.5,208.0 299.4,206.0 301.7,198.0 303.5,182.0 305.1,174.0 309.1,162.0 314.0,154.4 315.6,150.0 317.1,142.0 318.5,130.0 318.1,122.0 317.5,120.0 315.1,116.0 311.2,112.0 306.0,108.2 304.0,107.2 302.0,107.0 300.0,107.5M120.0,283.5 144.0,285.9 148.0,285.5 152.0,283.7 157.6,278.0 164.2,270.0 168.0,262.8 172.2,250.0 174.9,244.0 178.0,239.9 182.0,237.1 184.0,236.3 188.0,235.7 192.0,236.3 194.0,237.0 196.0,238.2 198.0,240.1 202.0,246.2 204.0,247.2 208.0,247.1 214.0,245.9 250.0,236.8 260.0,231.7 270.0,229.0 276.0,226.8 284.9,222.0 298.3,212.0 300.5,210.0 301.7,208.0 304.9,200.0 306.6,188.0 307.1,180.0 312.4,162.0 316.7,152.0 323.9,118.0 324.3,114.0 323.9,112.0 322.0,109.6 319.3,108.0 314.0,105.9 308.0,102.0 304.0,100.7 302.0,100.9 300.0,101.6 293.9,108.0 292.0,109.3 284.8,112.0 239.1,118.0 228.0,120.5 216.0,124.2 200.0,131.1 185.3,140.0 174.0,148.7 152.0,169.2 142.0,177.2 138.0,179.7 130.0,183.5 120.0,186.5M120.0,297.2 134.0,296.5 152.0,298.0 156.0,297.1 158.4,296.0 161.2,294.0 168.0,286.4 176.6,282.0 192.0,271.4 205.2,258.0 208.0,255.5 213.1,252.0 226.0,246.6 250.0,239.7 262.1,234.0 278.0,229.1 290.0,222.6 298.1,216.0 302.0,213.5 304.9,210.0 309.7,200.0 311.3,188.0 311.1,182.0 312.5,174.0 322.0,139.3 324.0,133.6 328.0,125.5 330.0,123.0 334.0,120.6 342.0,118.7 346.0,115.8 348.0,113.5 352.6,106.0 354.3,102.0 354.9,98.0 354.0,94.8 352.0,92.5 350.0,91.5 348.0,91.1 341.0,92.0 328.0,97.5 324.0,98.4 322.0,98.2 320.0,97.6 317.3,96.0 315.5,94.0 314.0,90.5 312.0,88.9 310.0,89.6 298.0,98.0 292.0,106.2 288.0,108.6 282.0,110.0 278.0,110.4 238.0,112.8 220.0,115.6 208.0,118.6 196.0,122.4 184.0,127.1 142.0,146.3 130.0,150.6 120.0,153.0M330.6,50.0 324.0,65.6 322.4,68.0 314.0,71.6 308.0,76.0 304.0,81.2 299.0,90.0 294.0,97.0 290.0,104.0 286.8,106.0 282.0,107.0 276.0,107.4 236.0,107.1 214.0,109.1 190.0,113.5 142.0,125.4 130.0,127.7 120.0,128.9M120.0,307.8 130.0,304.8 136.0,303.8 142.0,303.4 152.0,303.8 156.0,303.2 172.0,296.2 182.0,293.7 196.0,291.3 200.1,290.0 204.0,287.1 205.5,284.0 205.7,282.0 204.8,272.0 206.4,266.0 210.0,260.3 214.9,256.0 222.0,252.0 231.9,248.0 250.0,242.6 278.0,233.3 294.0,225.1 306.1,216.0 309.9,212.0 312.0,208.9 314.4,204.0 315.7,200.0 316.6,190.0 316.9,174.0 322.0,151.5 326.0,143.2 328.0,140.2 332.0,136.5 342.0,129.3 348.0,123.8 354.0,117.4 360.8,108.0 371.8,84.0 372.8,80.0 372.8,78.0 371.4,72.0 371.6,70.0 373.4,66.0 379.6,56.0 381.1,50.0M328.0,79.3 330.0,79.1 333.4,80.0 336.5,82.0 335.9,84.0 334.1,86.0 331.6,88.0 328.0,89.5 326.0,88.9 325.4,88.0 325.3,86.0 326.0,82.3 328.0,79.3M310.8,50.0 309.4,54.0 300.0,72.0 288.9,98.0 287.8,100.0 285.7,102.0 284.0,102.7 276.0,103.5 238.0,100.9 214.0,100.8 196.0,101.9 148.0,106.7 120.0,107.8M120.0,319.4 128.0,313.9 136.1,310.0 144.0,308.2 156.0,307.1 176.0,299.5 186.0,297.1 200.0,294.7 204.0,293.3 206.4,292.0 208.6,290.0 210.5,286.0 210.7,282.0 209.9,274.0 210.8,268.0 212.9,264.0 214.5,262.0 219.2,258.0 226.2,254.0 234.0,250.9 280.0,237.3 296.9,228.0 308.0,219.4 314.6,212.0 318.1,204.0 318.9,200.0 320.2,176.0 322.5,166.0 326.0,156.1 330.8,150.0 360.0,120.5 365.1,114.0 367.6,110.0 371.7,102.0 376.0,91.8 383.6,76.0 383.9,74.0 383.4,68.0 383.6,66.0 390.0,55.4 394.1,50.0M120.0,417.9 122.0,415.8 126.5,408.0 128.0,402.8 128.6,396.0 128.4,390.0 127.4,386.0 123.3,378.0 120.0,374.1M120.0,461.0 123.2,460.0 124.1,458.0 123.7,456.0 122.0,451.6 120.0,448.8M297.3,50.0 286.0,90.1 284.0,94.1 282.0,96.2 278.0,97.8 268.0,97.7 236.0,93.5 216.0,91.7 156.0,89.9 136.0,88.6 120.0,87.1M120.0,474.3 126.0,474.3 144.0,471.0 156.4,470.0 163.1,468.0 164.5,466.0 162.8,464.0 160.0,462.4 157.1,460.0 155.6,458.0 154.1,454.0 154.0,452.0 154.7,450.0 156.0,448.0 158.0,446.6 160.0,446.3 161.7,448.0 163.0,452.0 166.0,453.8 170.0,454.7 172.0,454.7 173.5,454.0 173.9,452.0 171.8,448.0 169.2,446.0 164.0,443.8 162.0,442.3 156.0,435.7 145.6,428.0 142.5,424.0 141.4,420.0 141.4,412.0 140.9,408.0 138.8,398.0 138.0,385.4 136.0,379.6 130.0,367.8 126.7,360.0 123.7,348.0 123.4,342.0 124.1,336.0 126.0,330.0 128.1,326.0 130.9,322.0 134.9,318.0 140.9,314.0 144.0,312.7 148.0,311.5 158.0,309.8 170.0,304.9 178.5,302.0 188.0,299.8 202.0,297.5 208.0,295.3 212.4,292.0 214.4,288.0 214.8,284.0 213.9,274.0 214.5,270.0 215.4,268.0 218.3,264.0 223.3,260.0 230.0,256.6 238.0,253.8 250.0,251.0 282.0,241.6 286.0,239.6 298.2,232.0 304.0,227.8 311.0,222.0 316.4,216.0 318.0,213.5 319.5,210.0 321.4,202.0 322.8,178.0 324.0,173.3 326.0,168.4 328.4,164.0 332.0,158.9 338.0,152.9 348.7,144.0 362.0,131.5 372.0,123.8 376.0,119.6 380.0,114.0 386.4,102.0 396.0,86.9 398.5,82.0 400.0,77.6 402.7,66.0 404.6,62.0 409.5,54.0 410.5,50.0M284.9,50.0 281.4,72.0 278.7,82.0 276.0,86.4 273.8,88.0 270.0,89.1 266.0,89.2 258.0,88.4 218.0,81.4 164.0,73.6 143.6,70.0 120.0,64.9M120.0,479.6 142.0,479.0 158.0,477.6 172.0,474.5 179.1,472.0 188.2,468.0 196.0,464.0 204.0,458.0 207.4,454.0 211.6,448.0 212.5,446.0 213.3,442.0 212.9,438.0 212.1,436.0 210.7,434.0 208.0,432.2 204.0,431.9 200.0,433.8 198.0,435.4 190.0,443.6 188.0,445.0 184.0,446.0 180.0,445.7 170.0,441.3 164.8,438.0 156.1,430.0 151.4,424.0 148.8,418.0 145.6,404.0 144.2,396.0 143.9,386.0 143.2,380.0 138.1,362.0 135.7,348.0 135.4,340.0 136.2,334.0 138.2,328.0 141.4,322.0 144.7,318.0 147.5,316.0 150.0,314.9 160.0,312.7 174.0,306.7 182.9,304.0 206.0,299.8 213.9,296.0 216.2,294.0 218.2,290.0 218.7,286.0 217.9,274.0 219.1,270.0 222.3,266.0 228.0,262.2 234.0,259.8 240.0,258.3 246.0,257.4 256.0,256.9 264.0,254.9 274.0,251.3 282.0,250.6 286.0,249.7 304.0,241.6 326.0,232.7 338.0,225.3 339.3,224.0 339.8,222.0 338.9,220.0 334.1,216.0 332.0,212.8 328.0,210.4 326.0,207.2 324.9,200.0 324.6,194.0 325.7,180.0 326.9,176.0 330.0,171.1 334.0,166.9 344.0,158.0 352.1,148.0 362.0,139.7 367.8,134.0 378.0,125.3 384.4,118.0 392.0,104.2 404.2,84.0 405.9,80.0 407.6,72.0 409.7,66.0 415.1,56.0 417.7,50.0M230.0,311.0 228.0,312.5 225.7,316.0 222.6,322.0 221.5,326.0 221.5,328.0 223.0,330.0 228.0,332.3 230.0,332.1 232.9,330.0 235.4,326.0 236.9,322.0 237.2,320.0 236.8,316.0 234.7,312.0 232.0,310.6 230.0,311.0M269.9,50.0 268.0,62.3 265.8,68.0 264.0,70.5 262.0,72.1 258.0,73.6 253.1,74.0 240.0,72.4 210.0,65.6 172.0,55.9 159.7,52.0 156.0,50.0M530.3,50.0 538.7,52.0 550.0,53.0 570.0,52.4 574.0,52.8 576.0,53.5 578.0,54.9 582.0,60.1 584.0,61.0 586.0,61.1 590.0,59.8 592.6,58.0 598.0,53.4 600.6,50.0M120.0,483.6 142.0,483.0 158.0,481.6 174.0,478.4 190.0,472.9 202.9,466.0 210.3,460.0 216.3,452.0 218.4,448.0 219.5,444.0 220.0,437.9 218.9,434.0 216.0,429.6 214.0,427.7 210.0,425.5 208.0,425.0 204.0,424.8 198.0,426.9 194.0,430.4 188.4,438.0 186.0,440.1 184.0,441.0 180.0,441.3 172.0,438.7 167.2,436.0 159.0,428.0 155.0,422.0 153.2,418.0 149.9,406.0 148.4,394.0 148.7,388.0 150.9,368.0 152.0,363.8 154.0,360.5 156.0,360.1 160.0,364.3 162.0,365.6 164.0,365.3 166.0,363.0 168.0,359.5 170.1,354.0 172.0,345.7 173.1,336.0 172.6,332.0 171.7,330.0 170.0,327.8 168.0,326.4 164.0,324.9 162.0,324.8 156.0,326.9 154.0,326.0 152.5,322.0 153.6,320.0 162.0,317.7 168.8,314.0 178.0,309.9 184.0,308.0 194.0,305.9 206.0,304.2 210.0,302.9 216.0,299.8 218.6,298.0 220.5,296.0 222.3,292.0 223.0,286.0 222.2,276.0 223.4,272.0 226.0,269.1 230.0,266.7 234.0,265.5 238.0,265.4 246.0,267.3 248.0,268.3 249.8,270.0 250.8,272.0 251.2,274.0 250.6,278.0 248.0,282.6 240.0,292.2 226.0,305.6 220.0,312.6 214.6,320.0 209.5,328.0 207.9,332.0 206.7,338.0 207.0,342.0 209.2,346.0 214.0,350.2 218.0,351.3 222.0,350.8 230.3,348.0 238.0,343.7 244.0,339.6 252.4,332.0 262.9,320.0 279.5,296.0 292.1,282.0 308.4,266.0 348.7,234.0 351.0,232.0 354.2,228.0 358.0,221.3 359.0,218.0 358.6,214.0 354.4,200.0 354.0,197.9 354.3,196.0 356.0,193.6 358.1,192.0 366.0,188.0 368.4,186.0 370.0,183.5 371.0,180.0 374.6,160.0 374.6,156.0 373.5,152.0 370.0,147.5 369.3,146.0 369.1,144.0 369.7,140.0 372.3,136.0 376.2,132.0 388.2,124.0 394.1,118.0 402.3,104.0 415.5,84.0 428.7,58.0 432.0,54.0 436.7,50.0M120.0,487.6 144.0,486.8 156.0,485.8 174.0,482.9 180.0,481.4 192.0,477.3 204.0,470.9 212.8,464.0 216.6,460.0 220.9,454.0 223.2,450.0 225.0,444.0 225.9,438.0 225.5,434.0 223.9,430.0 221.0,426.0 218.0,423.3 214.0,421.0 210.0,419.8 204.0,419.4 198.0,420.4 194.5,422.0 191.9,424.0 188.8,428.0 186.0,432.8 184.0,435.1 182.0,436.3 178.0,436.6 172.0,434.8 167.7,432.0 162.0,424.8 157.9,416.0 156.6,410.0 156.4,406.0 158.0,399.4 160.0,397.1 164.0,395.0 166.0,393.3 170.0,388.2 172.0,384.6 174.7,378.0 176.3,368.0 177.5,364.0 181.6,354.0 185.0,344.0 188.0,338.0 190.0,335.1 194.0,330.6 196.0,328.9 198.2,328.0 198.5,330.0 198.3,332.0 196.6,338.0 195.7,344.0 196.8,350.0 199.1,354.0 202.0,357.4 206.0,360.1 210.0,361.5 214.0,361.8 222.0,359.6 228.0,357.3 236.0,353.3 240.0,350.7 250.0,342.5 280.0,311.4 312.0,288.2 342.0,261.0 372.0,237.4 384.0,229.3 406.3,216.0 412.1,212.0 415.3,208.0 415.9,206.0 415.8,204.0 413.4,200.0 402.0,188.0 400.6,186.0 399.1,182.0 397.7,176.0 398.0,170.0 400.0,164.8 402.0,162.1 416.0,151.0 418.8,148.0 420.0,145.1 420.6,142.0 422.6,122.0 423.5,118.0 433.4,92.0 436.0,87.5 440.0,83.3 444.0,80.8 450.0,79.1 458.0,78.7 468.0,79.5 470.0,80.4 472.0,82.9 474.2,94.0 476.0,96.3 478.0,96.5 480.0,95.6 484.6,92.0 488.0,90.3 500.0,87.4 518.0,86.6 546.0,87.6 560.0,86.7 576.0,84.5 585.0,82.0 598.0,76.8 614.0,69.5 620.0,67.8 632.0,65.6 640.0,62.7 644.0,60.6 648.0,57.5 651.0,54.0 652.9,50.0M120.0,493.3 128.0,492.2 148.0,493.2 158.0,493.1 174.0,491.6 190.0,487.6 204.0,480.7 208.1,478.0 222.0,466.0 228.8,458.0 231.2,454.0 233.3,448.0 234.1,444.0 233.8,432.0 231.5,426.0 227.8,420.0 226.0,418.0 222.0,414.9 214.0,410.2 202.0,406.0 192.0,404.6 186.0,403.1 183.5,402.0 182.5,400.0 181.9,396.0 179.5,392.0 179.0,390.0 179.2,388.0 181.6,380.0 183.2,368.0 184.0,366.0 186.0,363.2 188.0,361.4 190.0,360.6 192.0,360.9 193.5,362.0 195.4,366.0 198.0,369.0 202.0,371.4 210.0,373.9 216.0,373.8 222.0,373.1 234.0,369.5 240.0,366.6 250.0,360.8 259.3,354.0 280.6,336.0 296.1,324.0 326.0,299.4 358.0,269.9 367.8,262.0 372.0,259.4 382.0,255.3 398.0,247.7 418.0,239.6 436.0,231.2 444.0,228.1 452.0,225.8 458.0,224.8 462.0,225.0 468.0,226.1 482.0,230.5 492.0,232.5 496.0,232.5 502.0,231.6 512.0,228.7 516.4,226.0 518.3,224.0 519.5,222.0 520.3,218.0 520.0,216.0 518.0,212.0 511.5,204.0 504.0,197.9 500.0,195.2 494.0,192.7 478.0,187.6 464.0,184.8 451.8,184.0 442.0,182.7 438.0,181.5 435.9,180.0 434.6,178.0 434.2,176.0 434.5,174.0 438.6,166.0 439.7,162.0 438.0,140.0 438.2,136.0 440.0,131.6 442.0,130.8 444.0,131.7 452.0,140.2 456.0,142.9 460.0,144.6 466.0,146.5 474.0,147.7 478.0,147.8 482.0,147.2 486.0,145.4 488.0,143.6 490.7,140.0 498.4,126.0 506.0,117.8 510.0,115.0 522.0,109.9 528.0,105.0 532.0,102.6 538.0,100.8 548.0,99.5 580.0,98.8 594.0,96.5 624.0,90.0 632.0,89.4 642.0,89.9 646.0,89.0 652.0,85.8 656.3,82.0 670.7,64.0 676.5,56.0 680.0,52.7M680.0,485.6 656.0,483.6 652.0,482.8 636.0,477.7 620.8,468.0 618.0,465.8 608.0,455.9 594.8,440.0 589.7,432.0 587.8,428.0 586.3,418.0 586.7,414.0 587.7,410.0 591.0,402.0 598.0,393.6 606.0,387.6 608.0,386.7 612.0,386.7 624.6,392.0 628.0,392.6 632.0,391.7 642.0,386.6 646.0,385.8 650.0,387.2 652.0,388.8 668.0,410.0 674.5,416.0 678.0,418.6 680.0,419.5M680.0,519.4 666.0,520.1 654.0,519.2 642.0,516.4 628.0,514.8 610.0,511.3 602.0,508.6 588.0,506.9 586.0,507.0 582.0,508.0 582.5,510.0 590.0,513.4 596.0,517.5 598.0,518.4 608.0,518.9 630.0,523.5 638.0,526.4 648.0,527.0 654.0,528.1 662.0,528.8 674.0,529.0 680.0,527.7M132.4,568.0 133.1,566.0 146.0,544.4 158.1,530.0 171.6,520.0 188.0,509.8 212.0,493.2 230.0,477.9 243.8,462.0 248.7,454.0 253.7,444.0 256.6,436.0 260.4,422.0 264.6,390.0 266.0,386.9 268.0,385.5 270.0,385.3 272.5,386.0 283.4,392.0 288.5,396.0 291.8,402.0 294.0,403.5 296.0,403.3 298.1,402.0 309.5,386.0 312.0,383.5 314.2,382.0 318.0,380.9 322.0,381.4 324.0,382.4 326.0,384.0 328.5,388.0 334.0,414.3 336.0,420.0 338.0,423.8 340.0,425.9 343.7,428.0 345.4,430.0 345.5,432.0 343.4,438.0 335.7,452.0 334.8,456.0 335.5,462.0 335.2,464.0 334.0,466.2 332.0,468.3 325.0,472.0 318.0,474.5 302.0,475.8 294.0,475.7 288.0,477.3 280.8,480.0 277.5,482.0 267.7,490.0 264.2,494.0 263.9,496.0 264.8,498.0 268.0,500.1 272.0,500.9 278.0,501.1 318.0,497.1 322.4,496.0 340.3,488.0 382.0,462.8 404.0,453.0 422.0,447.0 426.0,445.1 436.0,438.7 444.6,436.0 454.0,435.9 462.0,436.6 480.0,440.4 492.0,445.0 500.0,447.4 510.0,449.4 516.0,449.0 520.0,447.2 522.0,445.4 524.1,442.0 525.3,438.0 526.6,424.0 529.5,412.0 532.0,408.0 534.0,406.8 536.0,406.6 538.0,407.3 540.0,409.2 542.0,412.7 546.8,424.0 554.2,434.0 560.0,440.0 568.5,448.0 587.2,464.0 597.4,472.0 618.0,486.4 634.0,494.3 640.0,496.7 652.0,500.4 671.1,504.0 680.0,506.8M548.0,492.0 543.2,494.0 541.5,496.0 541.2,498.0 541.7,500.0 543.3,502.0 546.1,504.0 554.8,508.0 562.0,509.3 572.0,510.0 574.0,509.6 577.4,508.0 570.0,502.8 562.0,495.6 554.0,492.4 548.0,492.0M225.7,568.0 226.2,566.0 228.2,562.0 240.0,547.4 246.0,542.9 256.6,536.0 276.0,527.6 290.0,522.7 312.0,517.1 324.0,515.9 326.3,516.0 329.3,518.0 329.8,520.0 328.0,522.6 322.0,526.3 314.3,532.0 300.0,539.1 288.0,541.5 272.0,548.9 267.7,552.0 256.6,562.0 253.1,566.0 252.1,568.0M298.7,568.0 300.0,565.1 302.0,563.4 304.0,562.4 332.0,552.8 354.0,549.4 370.3,546.0 386.4,544.0 404.0,543.3 412.0,543.7 420.0,544.8 468.0,553.5 474.0,555.8 478.1,558.0 486.0,564.6 488.0,565.5 492.0,566.4 498.0,565.3 500.5,564.0 504.0,561.1 508.0,556.0 510.0,554.5 512.0,553.7 516.0,553.6 522.0,555.1 530.0,558.8 542.9,566.0 545.2,568.0" fill="none" stroke="#000" stroke-width="1.05" stroke-linejoin="round"/>
<path d="M677,67.5L672,72 669,80 667,90 665,100 668,106 677,108.5M386,565Q392,560 400,557.5T413,555T426,556.3T440,561T446,565" fill="none" stroke="#000" stroke-width="1.05"/>
<path d="M124.0,54.0 354.0,54.0 354.0,54.0 354.0,58.4 347.7,58.4 347.7,62.8 341.3,62.8 341.3,67.1 335.0,67.1 335.0,71.5 328.7,71.5 328.7,75.9 322.3,75.9 322.3,80.3 316.0,80.3 316.0,84.6 309.7,84.6 309.7,89.0 303.3,89.0 303.3,93.4 297.0,93.4 297.0,105.0 312.0,105.0 312.0,120.0 306.0,120.0 306.0,126.0 304.5,126.0 304.5,150.0 306.0,150.0 306.0,156.0 300.0,156.0 300.0,160.0 296.0,160.0 296.0,166.0 292.0,166.0 292.0,178.0 290.0,178.0 290.0,196.0 288.5,196.0 288.0,209.0 284.0,209.0 284.0,216.0 277.0,216.0 277.0,220.5 265.0,220.5 265.0,224.0 247.5,224.0 247.5,226.0 230.0,226.0 230.0,228.0 219.0,228.0 219.0,231.0 208.0,231.0 208.0,236.0 200.0,236.0 200.0,241.0 195.0,241.0 195.0,247.0 195.0,247.0 190.5,247.0 190.5,253.2 186.0,253.2 186.0,259.3 181.5,259.3 181.5,265.5 177.0,265.5 177.0,271.7 172.5,271.7 172.5,277.8 168.0,277.8 168.0,284.0 168.0,289.0 160.0,289.0 160.0,296.0 154.0,296.0 154.0,303.0 150.0,303.0 150.0,309.0 145.0,309.0 145.0,321.0 151.6,321.0 151.6,370.0 145.0,370.0 145.0,383.0 140.0,383.0 140.0,395.0 138.0,395.0 138.0,423.0 142.5,423.0 142.5,446.0 142.5,446.0 142.5,451.5 137.9,451.5 137.9,457.0 133.2,457.0 133.2,462.5 128.6,462.5 128.6,468.0 124.0,468.0Z" fill="#fff"/>
<rect x="287.5" y="101" width="6.5" height="8.5" fill="#ffd800"/>
<path d="M287.5,105.5h6.5M287.5,107.8h6.5" stroke="#000" stroke-width="0.9"/>
<path d="M353.0,54.0 340.0,62.0 325.0,72.0 310.0,82.0 297.0,91.0 288.0,99.0 281.0,107.0 280.5,109.0 285.0,114.8 289.4,111.0 293.0,113.5 301.0,112.0 302.0,122.5 301.5,130.0 300.0,140.0 298.0,150.0 291.0,153.0 284.0,156.0 286.0,163.0 292.0,164.0 289.0,171.0 288.0,182.0 287.0,191.0 284.0,203.0 281.6,215.0 275.5,219.4 265.0,222.0 247.5,223.8 230.0,225.5 220.0,227.0 208.0,232.0 200.0,238.0 196.0,244.0 190.0,250.0 180.0,260.0 170.0,270.0 160.0,280.0 158.0,288.0 157.0,294.0 151.6,302.6 144.0,304.7 143.0,313.0 147.4,323.7 148.4,330.0 142.0,334.0 148.4,340.5 149.5,353.0 148.4,365.8 143.0,378.4 139.0,389.0 135.8,401.6 136.0,410.0 137.5,422.5 140.0,437.5 137.5,447.5 130.0,457.5 124.0,463.0M348.5,54.0 336.0,62.0 321.0,72.0 306.0,82.0 293.0,91.0 285.0,98.0 281.0,103.0M135.8,401.6 124.0,404.7M124.0,145.0 137.0,149.0 150.0,152.0 166.0,150.0 163.0,145.0 171.0,135.0 180.0,142.0 189.0,140.0 195.0,133.0 210.0,127.0 222.0,120.0 238.0,116.0 245.0,117.0 253.0,115.0 270.0,122.0 283.0,129.0 289.0,140.0 291.0,153.0M285.0,54.0 283.0,65.0 279.0,80.0 281.6,96.6 288.0,97.0 291.0,94.7M292.0,54.0 292.7,69.4 298.0,77.0 299.0,86.0 314.0,78.0 316.0,76.0 310.0,70.7 312.7,64.0 320.0,61.0 324.4,64.0 325.7,55.8 329.6,59.0 331.0,54.0M190.0,189.0 208.0,195.0 211.0,197.0 204.0,202.0 202.0,210.0 205.0,216.0 214.0,220.0 213.0,224.0 204.0,228.0 194.0,233.0 192.0,235.0 195.0,240.0 208.0,234.0 200.0,239.0 196.0,244.5 192.0,243.0 188.0,239.5 184.0,241.0 178.0,245.0 172.0,247.5 166.0,250.5 168.0,238.5 172.0,235.0 182.0,232.0 187.0,228.0 186.0,220.0 180.0,214.0 176.0,204.0 180.0,196.0 190.0,189.0M183.0,258.0 177.0,262.0 170.0,268.0 163.0,276.0 159.0,281.0 161.0,272.0 163.0,264.0 170.0,260.0 178.0,255.0 183.0,258.0" fill="none" stroke="#000" stroke-width="1.1" stroke-linejoin="round"/>
<path d="M195.0,54 V563M266.0,54 V563M336.5,54 V563M407.5,54 V563M478.0,54 V563M549.0,54 V563M620.0,54 V563" fill="none" stroke="#aaa" stroke-width="1.7" stroke-dasharray="1.8,4.74" stroke-dashoffset="2.15"/>
<path d="M124,105.0 H676M124,190.0 H676M124,275.0 H676M124,359.5 H676M124,444.0 H676M124,529.0 H676" fill="none" stroke="#aaa" stroke-width="1.7" stroke-dasharray="1.8,4.76" stroke-dashoffset="0.44"/>
</g>
<g font-size="11.5" text-anchor="middle" fill="#000" opacity="0.999"><rect x="533.0" y="83.3" width="22.9" height="10.5" fill="#fff"/><text x="544.5" y="92.6" stroke="#000" stroke-width="0.3">17.5</text><rect x="570.4" y="93.8" width="13.3" height="10.5" fill="#fff"/><text x="577.0" y="103.1" stroke="#000" stroke-width="0.3">18</text><rect x="319.9" y="131.3" width="13.3" height="10.5" fill="#fff"/><text x="326.5" y="140.6" stroke="#000" stroke-width="0.3">15</text><rect x="314.6" y="142.3" width="22.9" height="10.5" fill="#fff"/><text x="326.0" y="151.6" stroke="#000" stroke-width="0.3">15.5</text><rect x="321.6" y="157.3" width="22.9" height="10.5" fill="#fff"/><text x="333.0" y="166.6" stroke="#000" stroke-width="0.3">16.5</text><rect x="484.9" y="227.3" width="13.3" height="10.5" fill="#fff"/><text x="491.5" y="236.6" stroke="#000" stroke-width="0.3">18</text><rect x="265.6" y="220.8" width="22.9" height="10.5" fill="#fff"/><text x="277.0" y="230.1" stroke="#000" stroke-width="0.3">13.5</text><rect x="260.4" y="225.8" width="13.3" height="10.5" fill="#fff"/><text x="267.0" y="235.1" stroke="#000" stroke-width="0.3">13</text><rect x="245.3" y="231.3" width="13.3" height="10.5" fill="#fff"/><text x="252.0" y="240.6" stroke="#000" stroke-width="0.3">14</text><rect x="232.6" y="228.3" width="22.9" height="10.5" fill="#fff"/><text x="244.0" y="237.6" stroke="#000" stroke-width="0.3">14.5</text><rect x="261.9" y="239.8" width="13.3" height="10.5" fill="#fff"/><text x="268.5" y="249.1" stroke="#000" stroke-width="0.3">16</text><rect x="244.1" y="251.8" width="22.9" height="10.5" fill="#fff"/><text x="255.5" y="261.1" stroke="#000" stroke-width="0.3">16.5</text><rect x="197.6" y="257.3" width="22.9" height="10.5" fill="#fff"/><text x="209.0" y="266.6" stroke="#000" stroke-width="0.3">15.5</text><rect x="175.6" y="280.8" width="22.9" height="10.5" fill="#fff"/><text x="187.0" y="290.1" stroke="#000" stroke-width="0.3">14.5</text><rect x="191.8" y="286.3" width="13.3" height="10.5" fill="#fff"/><text x="198.5" y="295.6" stroke="#000" stroke-width="0.3">15</text><rect x="153.3" y="302.8" width="13.3" height="10.5" fill="#fff"/><text x="160.0" y="312.1" stroke="#000" stroke-width="0.3">16</text><rect x="153.3" y="312.3" width="13.3" height="10.5" fill="#fff"/><text x="160.0" y="321.6" stroke="#000" stroke-width="0.3">17</text><rect x="209.8" y="346.8" width="13.3" height="10.5" fill="#fff"/><text x="216.5" y="356.1" stroke="#000" stroke-width="0.3">17</text><rect x="201.1" y="357.8" width="22.9" height="10.5" fill="#fff"/><text x="212.5" y="367.1" stroke="#000" stroke-width="0.3">17.5</text><rect x="202.8" y="368.3" width="13.3" height="10.5" fill="#fff"/><text x="209.5" y="377.6" stroke="#000" stroke-width="0.3">18</text><rect x="310.6" y="375.3" width="22.9" height="10.5" fill="#fff"/><text x="322.0" y="384.6" stroke="#000" stroke-width="0.3">18.5</text><rect x="194.1" y="425.8" width="22.9" height="10.5" fill="#fff"/><text x="205.5" y="435.1" stroke="#000" stroke-width="0.3">16.5</text><rect x="198.8" y="419.3" width="13.3" height="10.5" fill="#fff"/><text x="205.5" y="428.6" stroke="#000" stroke-width="0.3">17</text><rect x="166.1" y="432.3" width="22.9" height="10.5" fill="#fff"/><text x="177.5" y="441.6" stroke="#000" stroke-width="0.3">17.5</text><rect x="146.3" y="465.3" width="13.3" height="10.5" fill="#fff"/><text x="153.0" y="474.6" stroke="#000" stroke-width="0.3">16</text><rect x="159.8" y="490.3" width="13.3" height="10.5" fill="#fff"/><text x="166.5" y="499.6" stroke="#000" stroke-width="0.3">18</text><rect x="264.6" y="496.3" width="22.9" height="10.5" fill="#fff"/><text x="276.0" y="505.6" stroke="#000" stroke-width="0.3">18.5</text><rect x="526.0" y="400.3" width="22.9" height="10.5" fill="#fff"/><text x="537.5" y="409.6" stroke="#000" stroke-width="0.3">18.5</text><rect x="597.0" y="380.3" width="22.9" height="10.5" fill="#fff"/><text x="608.5" y="389.6" stroke="#000" stroke-width="0.3">18.5</text><rect x="558.0" y="504.3" width="22.9" height="10.5" fill="#fff"/><text x="569.5" y="513.6" stroke="#000" stroke-width="0.3">18.5</text><rect x="346.9" y="544.3" width="13.3" height="10.5" fill="#fff"/><text x="353.5" y="553.6" stroke="#000" stroke-width="0.3">19</text><rect x="125" y="481.5" width="20" height="10.5" fill="#fff"/><text x="135" y="490.9" stroke="#000" stroke-width="0.3">7.5</text></g>
<rect x="124" y="54" width="552" height="509" fill="none" stroke="#000" stroke-width="2"/>
<path d="M124.0,563 v4.5M195.0,563 v4.5M266.0,563 v4.5M336.5,563 v4.5M407.5,563 v4.5M478.0,563 v4.5M549.0,563 v4.5M620.0,563 v4.5M124,105.0 h-5M124,190.0 h-5M124,275.0 h-5M124,359.5 h-5M124,444.0 h-5M124,529.0 h-5" stroke="#000" stroke-width="1.6" fill="none"/>
<g font-size="12" text-anchor="middle" fill="#000" stroke="#000" stroke-width="0.4" opacity="0.999"><text x="124.0" y="578.7">28.5</text><text x="195.0" y="578.7">29</text><text x="266.0" y="578.7">29.5</text><text x="336.5" y="578.7">30</text><text x="407.5" y="578.7">30.5</text><text x="478.0" y="578.7">31</text><text x="549.0" y="578.7">31.5</text><text x="620.0" y="578.7">32</text></g>
<g font-size="12" text-anchor="end" fill="#000" stroke="#000" stroke-width="0.4" opacity="0.999"><text x="116.4" y="109.4">45.5</text><text x="116.4" y="194.4">45</text><text x="116.4" y="279.4">44.5</text><text x="116.4" y="363.9">44</text><text x="116.4" y="448.4">43.5</text><text x="116.4" y="533.4">43</text></g>
<rect x="709" y="550" width="14" height="6" fill="#000086"/><rect x="709" y="544" width="14" height="6" fill="#000093"/><rect x="709" y="537" width="14" height="7" fill="#00009f"/><rect x="709" y="531" width="14" height="6" fill="#0000ac"/><rect x="709" y="525" width="14" height="6" fill="#0000b9"/><rect x="709" y="519" width="14" height="6" fill="#0000c6"/><rect x="709" y="513" width="14" height="6" fill="#0000d2"/><rect x="709" y="507" width="14" height="6" fill="#0000df"/><rect x="709" y="500" width="14" height="7" fill="#0000ec"/><rect x="709" y="494" width="14" height="6" fill="#0000f9"/><rect x="709" y="488" width="14" height="6" fill="#0006ff"/><rect x="709" y="482" width="14" height="6" fill="#0013ff"/><rect x="709" y="476" width="14" height="6" fill="#0020ff"/><rect x="709" y="470" width="14" height="6" fill="#002dff"/><rect x="709" y="463" width="14" height="7" fill="#0039ff"/><rect x="709" y="457" width="14" height="6" fill="#0046ff"/><rect x="709" y="451" width="14" height="6" fill="#0053ff"/><rect x="709" y="445" width="14" height="6" fill="#0060ff"/><rect x="709" y="439" width="14" height="6" fill="#006cff"/><rect x="709" y="432" width="14" height="7" fill="#0079ff"/><rect x="709" y="426" width="14" height="6" fill="#0086ff"/><rect x="709" y="420" width="14" height="6" fill="#0093ff"/><rect x="709" y="414" width="14" height="6" fill="#009fff"/><rect x="709" y="408" width="14" height="6" fill="#00acff"/><rect x="709" y="402" width="14" height="6" fill="#00b9ff"/><rect x="709" y="395" width="14" height="7" fill="#00c6ff"/><rect x="709" y="389" width="14" height="6" fill="#00d2ff"/><rect x="709" y="383" width="14" height="6" fill="#00dfff"/><rect x="709" y="377" width="14" height="6" fill="#00ecff"/><rect x="709" y="371" width="14" height="6" fill="#00f9ff"/><rect x="709" y="365" width="14" height="6" fill="#06fff9"/><rect x="709" y="358" width="14" height="7" fill="#13ffec"/><rect x="709" y="352" width="14" height="6" fill="#20ffdf"/><rect x="709" y="346" width="14" height="6" fill="#2dffd2"/><rect x="709" y="340" width="14" height="6" fill="#39ffc6"/><rect x="709" y="334" width="14" height="6" fill="#46ffb9"/><rect x="709" y="328" width="14" height="6" fill="#53ffac"/><rect x="709" y="321" width="14" height="7" fill="#60ff9f"/><rect x="709" y="315" width="14" height="6" fill="#6cff93"/><rect x="709" y="309" width="14" height="6" fill="#79ff86"/><rect x="709" y="303" width="14" height="6" fill="#86ff79"/><rect x="709" y="297" width="14" height="6" fill="#93ff6c"/><rect x="709" y="290" width="14" height="7" fill="#9fff60"/><rect x="709" y="284" width="14" height="6" fill="#acff53"/><rect x="709" y="278" width="14" height="6" fill="#b9ff46"/><rect x="709" y="272" width="14" height="6" fill="#c6ff39"/><rect x="709" y="266" width="14" height="6" fill="#d2ff2d"/><rect x="709" y="260" width="14" height="6" fill="#dfff20"/><rect x="709" y="253" width="14" height="7" fill="#ecff13"/><rect x="709" y="247" width="14" height="6" fill="#f9ff06"/><rect x="709" y="241" width="14" height="6" fill="#fff900"/><rect x="709" y="235" width="14" height="6" fill="#ffec00"/><rect x="709" y="229" width="14" height="6" fill="#ffdf00"/><rect x="709" y="223" width="14" height="6" fill="#ffd200"/><rect x="709" y="216" width="14" height="7" fill="#ffc600"/><rect x="709" y="210" width="14" height="6" fill="#ffb900"/><rect x="709" y="204" width="14" height="6" fill="#ffac00"/><rect x="709" y="198" width="14" height="6" fill="#ff9f00"/><rect x="709" y="192" width="14" height="6" fill="#ff9300"/><rect x="709" y="186" width="14" height="6" fill="#ff8600"/><rect x="709" y="179" width="14" height="7" fill="#ff7900"/><rect x="709" y="173" width="14" height="6" fill="#ff6c00"/><rect x="709" y="167" width="14" height="6" fill="#ff6000"/><rect x="709" y="161" width="14" height="6" fill="#ff5300"/><rect x="709" y="155" width="14" height="6" fill="#ff4600"/><rect x="709" y="148" width="14" height="7" fill="#ff3900"/><rect x="709" y="142" width="14" height="6" fill="#ff2d00"/><rect x="709" y="136" width="14" height="6" fill="#ff2000"/><rect x="709" y="130" width="14" height="6" fill="#ff1300"/><rect x="709" y="124" width="14" height="6" fill="#ff0600"/><rect x="709" y="118" width="14" height="6" fill="#f90000"/><rect x="709" y="111" width="14" height="7" fill="#ec0000"/><rect x="709" y="105" width="14" height="6" fill="#df0000"/><rect x="709" y="99" width="14" height="6" fill="#d20000"/><rect x="709" y="93" width="14" height="6" fill="#c60000"/><rect x="709" y="87" width="14" height="6" fill="#b90000"/><rect x="709" y="81" width="14" height="6" fill="#ac0000"/><rect x="709" y="74" width="14" height="7" fill="#9f0000"/><rect x="709" y="68" width="14" height="6" fill="#930000"/><rect x="709" y="62" width="14" height="6" fill="#860000"/>
<g font-size="14" fill="#000" letter-spacing="0.3" opacity="0.999"><text x="735.8" y="73.3">19.2</text><text x="735.8" y="190.0">16.3</text><text x="735.8" y="311.0">13.3</text><text x="735.8" y="432.5">10.3</text><text x="735.8" y="554.0">7.39</text></g>
<g font-size="25" fill="#000" stroke="#fff" stroke-width="0.3" opacity="0.999"><text x="76.3" y="42" textLength="77.5" lengthAdjust="spacingAndGlyphs">Salinity</text><text x="170.0" y="42" textLength="60.0" lengthAdjust="spacingAndGlyphs">(ppt).</text><text x="246.3" y="42" textLength="48.1" lengthAdjust="spacingAndGlyphs">Date</text><text x="309.6" y="42" textLength="134.9" lengthAdjust="spacingAndGlyphs">2023.07.11.</text><text x="461.0" y="42" textLength="50.0" lengthAdjust="spacingAndGlyphs">Time</text><text x="526.0" y="42" textLength="138.6" lengthAdjust="spacingAndGlyphs">00(h):00(m)</text><text x="682.0" y="42" textLength="40.6" lengthAdjust="spacingAndGlyphs">GMT</text></g>
<g font-size="19" fill="#000" stroke="#fff" stroke-width="0.25" opacity="0.999"><text x="323.8" y="605" textLength="86.2" lengthAdjust="spacingAndGlyphs">Longitude</text><text x="422.5" y="605" textLength="53.8" lengthAdjust="spacingAndGlyphs">(East)</text><g transform="translate(81.8,0) rotate(-90)" font-size="20.5"><text x="-381.7" y="0" textLength="70" lengthAdjust="spacingAndGlyphs">Latitude</text><text x="-299.2" y="0" textLength="63.2" lengthAdjust="spacingAndGlyphs">(North)</text></g></g>
<g font-size="20" fill="#333" stroke="#fff" stroke-width="0.45" opacity="0.999"><text x="147" y="109" textLength="11" lengthAdjust="spacingAndGlyphs">Z</text><text x="176" y="109" textLength="14" lengthAdjust="spacingAndGlyphs">=</text><text x="207" y="109" textLength="33" lengthAdjust="spacingAndGlyphs">2.5</text><text x="257" y="109" textLength="17" lengthAdjust="spacingAndGlyphs">m</text></g>
</svg>
</body></html>
